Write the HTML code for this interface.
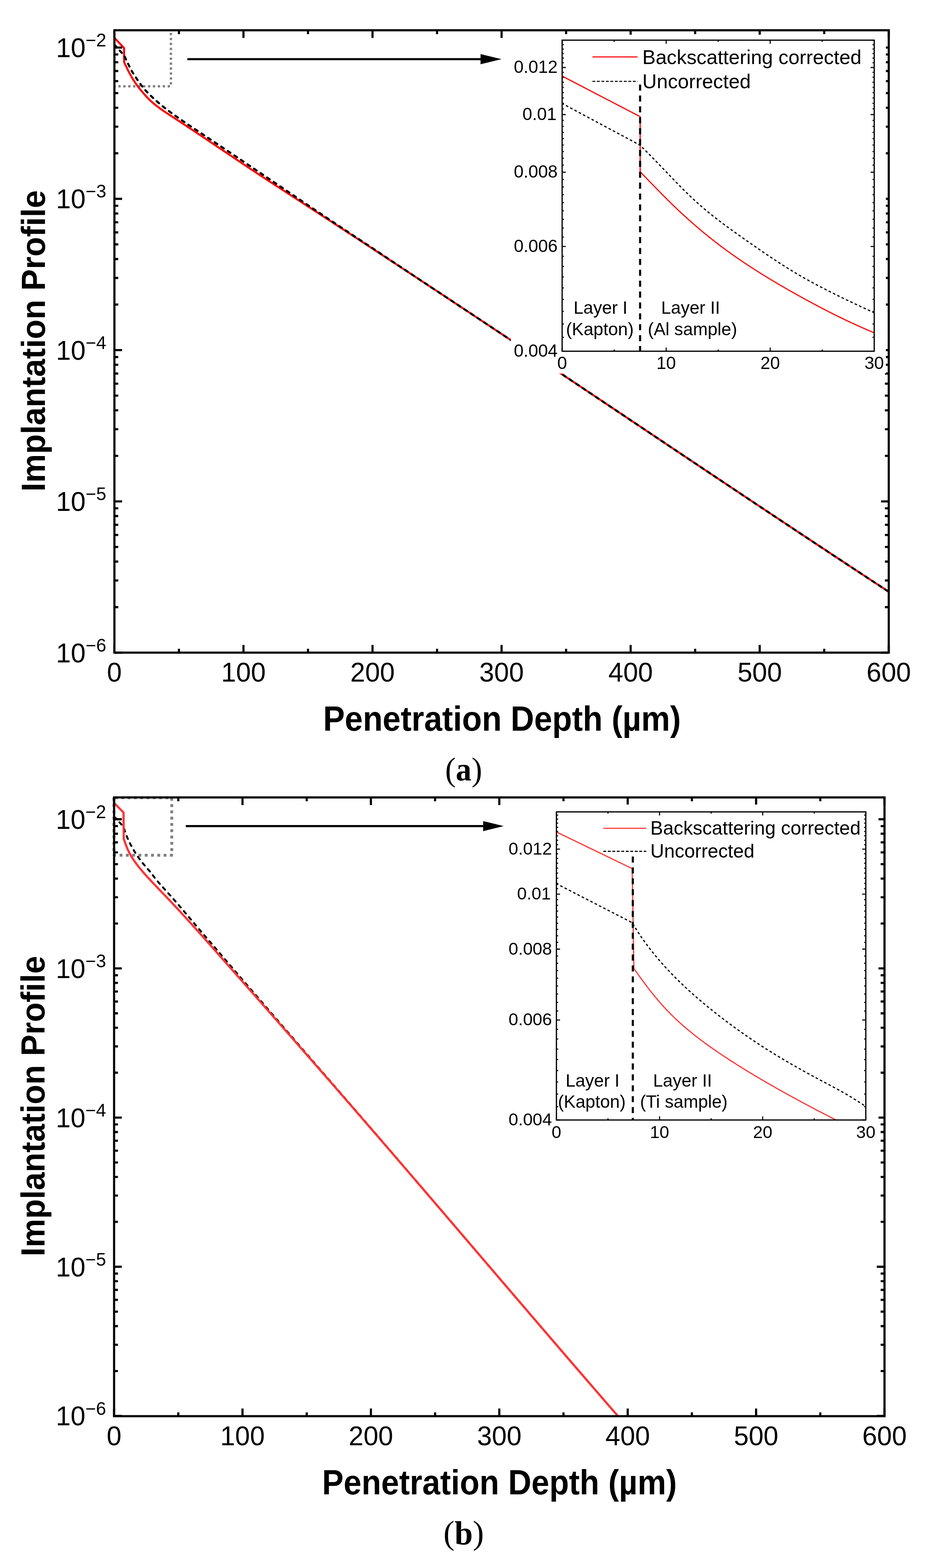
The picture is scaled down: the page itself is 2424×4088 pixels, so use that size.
<!DOCTYPE html>
<html><head><meta charset="utf-8"><title>Implantation Profile</title>
<style>html,body{margin:0;padding:0;background:#fff;width:2424px;height:4088px;overflow:hidden;}svg{display:block;}
text{font-family:"Liberation Sans",Arial,sans-serif;fill:#000;}</style></head>
<body><svg width="2424" height="4088" viewBox="0 0 2424 4088">
<rect width="2424" height="4088" fill="#fff"/>
<clipPath id="pca"><path d="M298.2,78.9H2316.5V1701.5H298.2Z M1331.4,28.900000000000006V973.4H2366.5V28.900000000000006Z" clip-rule="evenodd"/></clipPath>
<path d="M445.5,79V225" fill="none" stroke="#808080" stroke-width="6" stroke-dasharray="6 6.85" stroke-dashoffset="6"/><path d="M445.5,225H298" fill="none" stroke="#808080" stroke-width="6" stroke-dasharray="6 6.85" stroke-dashoffset="10.35"/>
<path d="M298.20,98.48 L323.43,125.38 L323.43,161.90 L328.42,172.50 L333.42,182.79 L338.41,192.42 L343.41,201.33 L348.40,209.53 L353.40,217.08 L358.39,224.05 L363.39,230.57 L368.39,236.73 L373.38,242.61 L378.38,248.24 L383.37,253.65 L388.37,258.78 L393.36,263.59 L398.36,268.08 L403.35,272.28 L408.35,276.26 L413.34,280.03 L418.34,283.66 L423.33,287.16 L428.33,290.57 L433.32,293.91 L438.32,297.21 L443.31,300.48 L448.31,303.74 L453.30,306.99 L458.30,310.24 L463.29,313.51 L468.29,316.78 L473.28,320.07 L478.28,323.37 L483.27,326.67 L488.27,329.98 L493.26,333.31 L498.26,336.63 L503.25,339.96 L508.25,343.30 L513.25,346.64 L518.24,349.98 L523.24,353.32 L528.23,356.67 L533.23,360.01 L538.22,363.36 L543.22,366.71 L548.21,370.06 L553.21,373.41 L558.20,376.76 L563.20,380.11 L568.19,383.47 L573.19,386.82 L578.18,390.18 L583.18,393.53 L588.17,396.89 L593.17,400.24 L598.16,403.60 L603.16,406.96 L608.15,410.31 L613.15,413.66 L618.14,417.02 L623.14,420.37 L628.13,423.72 L633.13,427.07 L638.12,430.41 L643.12,433.75 L648.11,437.09 L653.11,440.42 L658.10,443.74 L663.10,447.06 L668.10,450.37 L673.09,453.68 L678.09,456.98 L683.08,460.27 L688.08,463.55 L693.07,466.83 L698.07,470.10 L703.06,473.37 L708.06,476.64 L713.05,479.90 L718.05,483.16 L723.04,486.42 L728.04,489.67 L733.03,492.92 L738.03,496.17 L743.02,499.42 L748.02,502.67 L753.01,505.92 L758.01,509.17 L763.00,512.41 L768.00,515.66 L772.99,518.91 L777.99,522.15 L782.98,525.40 L787.98,528.64 L792.97,531.89 L797.97,535.14 L802.96,538.39 L807.96,541.64 L812.96,544.88 L817.95,548.13 L822.95,551.39 L827.94,554.64 L832.94,557.89 L837.93,561.15 L842.93,564.40 L847.92,567.66 L852.92,570.91 L857.91,574.17 L862.91,577.43 L867.90,580.69 L872.90,583.96 L877.89,587.22 L882.89,590.48 L887.88,593.75 L892.88,597.02 L897.87,600.29 L902.87,603.55 L907.86,606.82 L912.86,610.10 L917.85,613.37 L922.85,616.64 L927.84,619.92 L932.84,623.20 L937.83,626.47 L942.83,629.75 L947.82,633.03 L952.82,636.31 L957.81,639.59 L962.81,642.88 L967.81,646.16 L972.80,649.44 L977.80,652.73 L982.79,656.01 L987.79,659.30 L992.78,662.59 L997.78,665.88 L1002.77,669.17 L1007.77,672.46 L1012.76,675.75 L1017.76,679.04 L1022.75,682.33 L1027.75,685.63 L1032.74,688.92 L1037.74,692.21 L1042.73,695.51 L1047.73,698.80 L1052.72,702.10 L1057.72,705.39 L1062.71,708.69 L1067.71,711.99 L1072.70,715.28 L1077.70,718.58 L1082.69,721.88 L1087.69,725.18 L1092.68,728.48 L1097.68,731.78 L1102.67,735.07 L1107.67,738.37 L1112.66,741.67 L1117.66,744.97 L1122.66,748.27 L1127.65,751.57 L1132.65,754.87 L1137.64,758.17 L1142.64,761.47 L1147.63,764.78 L1152.63,768.08 L1157.62,771.38 L1162.62,774.68 L1167.61,777.99 L1172.61,781.29 L1177.60,784.60 L1182.60,787.90 L1187.59,791.21 L1192.59,794.52 L1197.58,797.82 L1202.58,801.13 L1207.57,804.44 L1212.57,807.75 L1217.56,811.06 L1222.56,814.37 L1227.55,817.68 L1232.55,820.99 L1237.54,824.31 L1242.54,827.62 L1247.53,830.93 L1252.53,834.25 L1257.52,837.56 L1262.52,840.88 L1267.52,844.20 L1272.51,847.51 L1277.51,850.83 L1282.50,854.15 L1287.50,857.47 L1292.49,860.79 L1297.49,864.11 L1302.48,867.43 L1307.48,870.75 L1312.47,874.08 L1317.47,877.40 L1322.46,880.72 L1327.46,884.05 L1332.45,887.37 L1337.45,890.70 L1342.44,894.03 L1347.44,897.35 L1352.43,900.68 L1357.43,904.01 L1362.42,907.34 L1367.42,910.67 L1372.41,914.00 L1377.41,917.33 L1382.40,920.66 L1387.40,923.99 L1392.39,927.32 L1397.39,930.65 L1402.38,933.99 L1407.38,937.32 L1412.37,940.66 L1417.37,943.99 L1422.37,947.33 L1427.36,950.66 L1432.36,954.00 L1437.35,957.33 L1442.35,960.67 L1447.34,964.01 L1452.34,967.35 L1457.33,970.68 L1462.33,974.02 L1467.32,977.36 L1472.32,980.70 L1477.31,984.04 L1482.31,987.38 L1487.30,990.72 L1492.30,994.06 L1497.29,997.40 L1502.29,1000.74 L1507.28,1004.09 L1512.28,1007.43 L1517.27,1010.77 L1522.27,1014.11 L1527.26,1017.46 L1532.26,1020.80 L1537.25,1024.14 L1542.25,1027.49 L1547.24,1030.83 L1552.24,1034.17 L1557.23,1037.52 L1562.23,1040.86 L1567.23,1044.21 L1572.22,1047.55 L1577.22,1050.90 L1582.21,1054.24 L1587.21,1057.59 L1592.20,1060.93 L1597.20,1064.28 L1602.19,1067.62 L1607.19,1070.97 L1612.18,1074.31 L1617.18,1077.66 L1622.17,1081.01 L1627.17,1084.35 L1632.16,1087.70 L1637.16,1091.04 L1642.15,1094.39 L1647.15,1097.73 L1652.14,1101.08 L1657.14,1104.43 L1662.13,1107.77 L1667.13,1111.12 L1672.12,1114.46 L1677.12,1117.81 L1682.11,1121.15 L1687.11,1124.50 L1692.10,1127.85 L1697.10,1131.19 L1702.09,1134.54 L1707.09,1137.88 L1712.08,1141.23 L1717.08,1144.57 L1722.08,1147.92 L1727.07,1151.26 L1732.07,1154.61 L1737.06,1157.95 L1742.06,1161.29 L1747.05,1164.64 L1752.05,1167.98 L1757.04,1171.33 L1762.04,1174.67 L1767.03,1178.01 L1772.03,1181.36 L1777.02,1184.70 L1782.02,1188.04 L1787.01,1191.38 L1792.01,1194.72 L1797.00,1198.07 L1802.00,1201.41 L1806.99,1204.75 L1811.99,1208.09 L1816.98,1211.43 L1821.98,1214.77 L1826.97,1218.11 L1831.97,1221.45 L1836.96,1224.79 L1841.96,1228.13 L1846.95,1231.47 L1851.95,1234.81 L1856.94,1238.14 L1861.94,1241.48 L1866.94,1244.82 L1871.93,1248.16 L1876.93,1251.49 L1881.92,1254.83 L1886.92,1258.16 L1891.91,1261.50 L1896.91,1264.83 L1901.90,1268.17 L1906.90,1271.50 L1911.89,1274.83 L1916.89,1278.17 L1921.88,1281.50 L1926.88,1284.83 L1931.87,1288.16 L1936.87,1291.50 L1941.86,1294.83 L1946.86,1298.16 L1951.85,1301.49 L1956.85,1304.81 L1961.84,1308.14 L1966.84,1311.47 L1971.83,1314.80 L1976.83,1318.13 L1981.82,1321.45 L1986.82,1324.78 L1991.81,1328.10 L1996.81,1331.43 L2001.80,1334.75 L2006.80,1338.08 L2011.79,1341.40 L2016.79,1344.72 L2021.79,1348.05 L2026.78,1351.37 L2031.78,1354.69 L2036.77,1358.01 L2041.77,1361.33 L2046.76,1364.65 L2051.76,1367.97 L2056.75,1371.28 L2061.75,1374.60 L2066.74,1377.92 L2071.74,1381.23 L2076.73,1384.55 L2081.73,1387.86 L2086.72,1391.18 L2091.72,1394.49 L2096.71,1397.80 L2101.71,1401.12 L2106.70,1404.43 L2111.70,1407.74 L2116.69,1411.05 L2121.69,1414.36 L2126.68,1417.67 L2131.68,1420.98 L2136.67,1424.28 L2141.67,1427.59 L2146.66,1430.90 L2151.66,1434.20 L2156.65,1437.51 L2161.65,1440.81 L2166.65,1444.11 L2171.64,1447.41 L2176.64,1450.72 L2181.63,1454.02 L2186.63,1457.32 L2191.62,1460.62 L2196.62,1463.92 L2201.61,1467.21 L2206.61,1470.51 L2211.60,1473.81 L2216.60,1477.10 L2221.59,1480.40 L2226.59,1483.69 L2231.58,1486.99 L2236.58,1490.28 L2241.57,1493.57 L2246.57,1496.86 L2251.56,1500.15 L2256.56,1503.44 L2261.55,1506.73 L2266.55,1510.02 L2271.54,1513.30 L2276.54,1516.59 L2281.53,1519.88 L2286.53,1523.16 L2291.52,1526.44 L2296.52,1529.73 L2301.51,1533.01 L2306.51,1536.29 L2311.50,1539.57 L2316.50,1542.85" fill="none" stroke="#ff0000" stroke-width="5.2" stroke-linejoin="round" clip-path="url(#pca)"/>
<path d="M298.20,116.62 L323.43,144.31 L328.42,154.71 L333.42,165.34 L338.41,175.75 L343.41,185.20 L348.40,193.51 L353.40,201.13 L358.39,208.38 L363.39,215.47 L368.39,222.31 L373.38,228.70 L378.38,234.57 L383.37,239.98 L388.37,245.08 L393.36,249.98 L398.36,254.72 L403.35,259.32 L408.35,263.78 L413.34,268.12 L418.34,272.34 L423.33,276.45 L428.33,280.46 L433.32,284.38 L438.32,288.20 L443.31,291.95 L448.31,295.61 L453.30,299.22 L458.30,302.77 L463.29,306.28 L468.29,309.75 L473.28,313.19 L478.28,316.61 L483.27,320.01 L488.27,323.39 L493.26,326.75 L498.26,330.11 L503.25,333.45 L508.25,336.79 L513.25,340.12 L518.24,343.45 L523.24,346.78 L528.23,350.11 L533.23,353.43 L538.22,356.75 L543.22,360.08 L548.21,363.40 L553.21,366.73 L558.20,370.06 L563.20,373.39 L568.19,376.72 L573.19,380.06 L578.18,383.40 L583.18,386.74 L588.17,390.08 L593.17,393.43 L598.16,396.77 L603.16,400.13 L608.15,403.48 L613.15,406.83 L618.14,410.19 L623.14,413.55 L628.13,416.92 L633.13,420.28 L638.12,423.65 L643.12,427.01 L648.11,430.39 L653.11,433.76 L658.10,437.13 L663.10,440.50 L668.10,443.88 L673.09,447.26 L678.09,450.64 L683.08,454.01 L688.08,457.39 L693.07,460.78 L698.07,464.16 L703.06,467.54 L708.06,470.92 L713.05,474.30 L718.05,477.68 L723.04,481.06 L728.04,484.45 L733.03,487.83 L738.03,491.21 L743.02,494.59 L748.02,497.97 L753.01,501.35 L758.01,504.73 L763.00,508.10 L768.00,511.48 L772.99,514.85 L777.99,518.23 L782.98,521.60 L787.98,524.97 L792.97,528.34 L797.97,531.71 L802.96,535.08 L807.96,538.45 L812.96,541.81 L817.95,545.17 L822.95,548.53 L827.94,551.89 L832.94,555.25 L837.93,558.60 L842.93,561.96 L847.92,565.31 L852.92,568.66 L857.91,572.00 L862.91,575.35 L867.90,578.69 L872.90,582.03 L877.89,585.36 L882.89,588.70 L887.88,592.03 L892.88,595.36 L897.87,598.68 L902.87,602.01 L907.86,605.33 L912.86,608.65 L917.85,611.96 L922.85,615.28 L927.84,618.59 L932.84,621.89 L937.83,625.20 L942.83,628.50 L947.82,631.80 L952.82,635.09 L957.81,638.38 L962.81,641.67 L967.81,644.96 L972.80,648.27 L977.80,651.62 L982.79,654.97 L987.79,658.32 L992.78,661.66 L997.78,665.01 L1002.77,668.35 L1007.77,671.68 L1012.76,675.02 L1017.76,678.35 L1022.75,681.68 L1027.75,685.01 L1032.74,688.34 L1037.74,691.67 L1042.73,695.00 L1047.73,698.32 L1052.72,701.64 L1057.72,704.97 L1062.71,708.29 L1067.71,711.61 L1072.70,714.93 L1077.70,718.25 L1082.69,721.56 L1087.69,724.88 L1092.68,728.19 L1097.68,731.51 L1102.67,734.82 L1107.67,738.14 L1112.66,741.45 L1117.66,744.76 L1122.66,748.07 L1127.65,751.39 L1132.65,754.70 L1137.64,758.01 L1142.64,761.32 L1147.63,764.63 L1152.63,767.94 L1157.62,771.25 L1162.62,774.56 L1167.61,777.87 L1172.61,781.18 L1177.60,784.50 L1182.60,787.81 L1187.59,791.12 L1192.59,794.43 L1197.58,797.74 L1202.58,801.06 L1207.57,804.37 L1212.57,807.68 L1217.56,811.00 L1222.56,814.31 L1227.55,817.62 L1232.55,820.94 L1237.54,824.26 L1242.54,827.57 L1247.53,830.89 L1252.53,834.21 L1257.52,837.52 L1262.52,840.84 L1267.52,844.16 L1272.51,847.48 L1277.51,850.80 L1282.50,854.12 L1287.50,857.44 L1292.49,860.76 L1297.49,864.09 L1302.48,867.41 L1307.48,870.73 L1312.47,874.06 L1317.47,877.38 L1322.46,880.70 L1327.46,884.03 L1332.45,887.36 L1337.45,890.68 L1342.44,894.01 L1347.44,897.34 L1352.43,900.67 L1357.43,904.00 L1362.42,907.33 L1367.42,910.66 L1372.41,913.99 L1377.41,917.32 L1382.40,920.65 L1387.40,923.98 L1392.39,927.31 L1397.39,930.65 L1402.38,933.98 L1407.38,937.31 L1412.37,940.65 L1417.37,943.98 L1422.37,947.32 L1427.36,950.66 L1432.36,953.99 L1437.35,957.33 L1442.35,960.67 L1447.34,964.00 L1452.34,967.34 L1457.33,970.68 L1462.33,974.02 L1467.32,977.36 L1472.32,980.70 L1477.31,984.04 L1482.31,987.38 L1487.30,990.72 L1492.30,994.06 L1497.29,997.40 L1502.29,1000.74 L1507.28,1004.08 L1512.28,1007.43 L1517.27,1010.77 L1522.27,1014.11 L1527.26,1017.45 L1532.26,1020.80 L1537.25,1024.14 L1542.25,1027.48 L1547.24,1030.83 L1552.24,1034.17 L1557.23,1037.52 L1562.23,1040.86 L1567.23,1044.21 L1572.22,1047.55 L1577.22,1050.90 L1582.21,1054.24 L1587.21,1057.59 L1592.20,1060.93 L1597.20,1064.28 L1602.19,1067.62 L1607.19,1070.97 L1612.18,1074.31 L1617.18,1077.66 L1622.17,1081.00 L1627.17,1084.35 L1632.16,1087.70 L1637.16,1091.04 L1642.15,1094.39 L1647.15,1097.73 L1652.14,1101.08 L1657.14,1104.43 L1662.13,1107.77 L1667.13,1111.12 L1672.12,1114.46 L1677.12,1117.81 L1682.11,1121.15 L1687.11,1124.50 L1692.10,1127.85 L1697.10,1131.19 L1702.09,1134.54 L1707.09,1137.88 L1712.08,1141.23 L1717.08,1144.57 L1722.08,1147.92 L1727.07,1151.26 L1732.07,1154.61 L1737.06,1157.95 L1742.06,1161.29 L1747.05,1164.64 L1752.05,1167.98 L1757.04,1171.33 L1762.04,1174.67 L1767.03,1178.01 L1772.03,1181.36 L1777.02,1184.70 L1782.02,1188.04 L1787.01,1191.38 L1792.01,1194.72 L1797.00,1198.07 L1802.00,1201.41 L1806.99,1204.75 L1811.99,1208.09 L1816.98,1211.43 L1821.98,1214.77 L1826.97,1218.11 L1831.97,1221.45 L1836.96,1224.79 L1841.96,1228.13 L1846.95,1231.47 L1851.95,1234.81 L1856.94,1238.14 L1861.94,1241.48 L1866.94,1244.82 L1871.93,1248.16 L1876.93,1251.49 L1881.92,1254.83 L1886.92,1258.16 L1891.91,1261.50 L1896.91,1264.83 L1901.90,1268.17 L1906.90,1271.50 L1911.89,1274.83 L1916.89,1278.17 L1921.88,1281.50 L1926.88,1284.83 L1931.87,1288.16 L1936.87,1291.50 L1941.86,1294.83 L1946.86,1298.16 L1951.85,1301.49 L1956.85,1304.81 L1961.84,1308.14 L1966.84,1311.47 L1971.83,1314.80 L1976.83,1318.13 L1981.82,1321.45 L1986.82,1324.78 L1991.81,1328.10 L1996.81,1331.43 L2001.80,1334.75 L2006.80,1338.08 L2011.79,1341.40 L2016.79,1344.72 L2021.79,1348.05 L2026.78,1351.37 L2031.78,1354.69 L2036.77,1358.01 L2041.77,1361.33 L2046.76,1364.65 L2051.76,1367.97 L2056.75,1371.28 L2061.75,1374.60 L2066.74,1377.92 L2071.74,1381.23 L2076.73,1384.55 L2081.73,1387.86 L2086.72,1391.18 L2091.72,1394.49 L2096.71,1397.80 L2101.71,1401.12 L2106.70,1404.43 L2111.70,1407.74 L2116.69,1411.05 L2121.69,1414.36 L2126.68,1417.67 L2131.68,1420.98 L2136.67,1424.28 L2141.67,1427.59 L2146.66,1430.90 L2151.66,1434.20 L2156.65,1437.51 L2161.65,1440.81 L2166.65,1444.11 L2171.64,1447.41 L2176.64,1450.72 L2181.63,1454.02 L2186.63,1457.32 L2191.62,1460.62 L2196.62,1463.92 L2201.61,1467.21 L2206.61,1470.51 L2211.60,1473.81 L2216.60,1477.10 L2221.59,1480.40 L2226.59,1483.69 L2231.58,1486.99 L2236.58,1490.28 L2241.57,1493.57 L2246.57,1496.86 L2251.56,1500.15 L2256.56,1503.44 L2261.55,1506.73 L2266.55,1510.02 L2271.54,1513.30 L2276.54,1516.59 L2281.53,1519.88 L2286.53,1523.16 L2291.52,1526.44 L2296.52,1529.73 L2301.51,1533.01 L2306.51,1536.29 L2311.50,1539.57 L2316.50,1542.85" fill="none" stroke="#000" stroke-width="5.4" stroke-dasharray="8.2 12.4" stroke-linecap="round" stroke-linejoin="round" clip-path="url(#pca)"/>
<path d="M298.20,1701.50V1681.50M298.20,78.90V98.90M634.58,1701.50V1681.50M634.58,78.90V98.90M970.97,1701.50V1681.50M970.97,78.90V98.90M1307.35,1701.50V1681.50M1307.35,78.90V98.90M1643.73,1701.50V1681.50M1643.73,78.90V98.90M1980.12,1701.50V1681.50M1980.12,78.90V98.90M2316.50,1701.50V1681.50M2316.50,78.90V98.90M466.39,1701.50V1691.50M466.39,78.90V88.90M802.77,1701.50V1691.50M802.77,78.90V88.90M1139.16,1701.50V1691.50M1139.16,78.90V88.90M1475.54,1701.50V1691.50M1475.54,78.90V88.90M1811.92,1701.50V1691.50M1811.92,78.90V88.90M2148.31,1701.50V1691.50M2148.31,78.90V88.90M298.20,124.00H318.20M2316.50,124.00H2296.50M298.20,518.40H318.20M2316.50,518.40H2296.50M298.20,912.80H318.20M2316.50,912.80H2296.50M298.20,1307.20H318.20M2316.50,1307.20H2296.50M298.20,1701.60H318.20M2316.50,1701.60H2296.50M298.20,399.67H308.20M2316.50,399.67H2306.50M298.20,330.22H308.20M2316.50,330.22H2306.50M298.20,280.95H308.20M2316.50,280.95H2306.50M298.20,242.73H308.20M2316.50,242.73H2306.50M298.20,211.50H308.20M2316.50,211.50H2306.50M298.20,185.09H308.20M2316.50,185.09H2306.50M298.20,162.22H308.20M2316.50,162.22H2306.50M298.20,142.05H308.20M2316.50,142.05H2306.50M298.20,794.07H308.20M2316.50,794.07H2306.50M298.20,724.62H308.20M2316.50,724.62H2306.50M298.20,675.35H308.20M2316.50,675.35H2306.50M298.20,637.13H308.20M2316.50,637.13H2306.50M298.20,605.90H308.20M2316.50,605.90H2306.50M298.20,579.49H308.20M2316.50,579.49H2306.50M298.20,556.62H308.20M2316.50,556.62H2306.50M298.20,536.45H308.20M2316.50,536.45H2306.50M298.20,1188.47H308.20M2316.50,1188.47H2306.50M298.20,1119.02H308.20M2316.50,1119.02H2306.50M298.20,1069.75H308.20M2316.50,1069.75H2306.50M298.20,1031.53H308.20M2316.50,1031.53H2306.50M298.20,1000.30H308.20M2316.50,1000.30H2306.50M298.20,973.89H308.20M2316.50,973.89H2306.50M298.20,951.02H308.20M2316.50,951.02H2306.50M298.20,930.85H308.20M2316.50,930.85H2306.50M298.20,1582.87H308.20M2316.50,1582.87H2306.50M298.20,1513.42H308.20M2316.50,1513.42H2306.50M298.20,1464.15H308.20M2316.50,1464.15H2306.50M298.20,1425.93H308.20M2316.50,1425.93H2306.50M298.20,1394.70H308.20M2316.50,1394.70H2306.50M298.20,1368.29H308.20M2316.50,1368.29H2306.50M298.20,1345.42H308.20M2316.50,1345.42H2306.50M298.20,1325.25H308.20M2316.50,1325.25H2306.50" stroke="#000" stroke-width="5.6" fill="none"/>
<rect x="298.20" y="78.90" width="2018.30" height="1622.60" fill="none" stroke="#000" stroke-width="5.6" stroke-linejoin="miter"/>
<text x="298.20" y="1776.8" font-size="69.5" text-anchor="middle">0</text>
<text x="634.58" y="1776.8" font-size="69.5" text-anchor="middle">100</text>
<text x="970.97" y="1776.8" font-size="69.5" text-anchor="middle">200</text>
<text x="1307.35" y="1776.8" font-size="69.5" text-anchor="middle">300</text>
<text x="1643.73" y="1776.8" font-size="69.5" text-anchor="middle">400</text>
<text x="1980.12" y="1776.8" font-size="69.5" text-anchor="middle">500</text>
<text x="2316.50" y="1776.8" font-size="69.5" text-anchor="middle">600</text>
<text x="277.1" y="148.9" font-size="69.5" text-anchor="end">10<tspan font-size="47.2" dy="-27.9">−2</tspan></text>
<text x="277.1" y="543.3" font-size="69.5" text-anchor="end">10<tspan font-size="47.2" dy="-27.9">−3</tspan></text>
<text x="277.1" y="937.7" font-size="69.5" text-anchor="end">10<tspan font-size="47.2" dy="-27.9">−4</tspan></text>
<text x="277.1" y="1332.1" font-size="69.5" text-anchor="end">10<tspan font-size="47.2" dy="-27.9">−5</tspan></text>
<text x="277.1" y="1726.5" font-size="69.5" text-anchor="end">10<tspan font-size="47.2" dy="-27.9">−6</tspan></text>
<path d="M488.3,154.2H1253.5" stroke="#000" stroke-width="5.6"/>
<path d="M1252.5,140.95L1307.2,154.2L1252.5,167.45Z" fill="#000"/>
<text transform="translate(117.0,888.9) rotate(-90) scale(0.959,1)" font-size="87.8" font-weight="bold" text-anchor="middle">Implantation Profile</text>
<text transform="translate(1308.4,1905.3) scale(0.935,1)" font-size="90.5" font-weight="bold" text-anchor="middle">Penetration Depth (µm)</text>
<text transform="translate(1208.5,2035) scale(0.95,1)" style="font-family:'Liberation Serif',serif" font-size="86" text-anchor="middle"><tspan font-size="87.7" dy="-0.5">(</tspan><tspan font-weight="bold" dy="0.5">a</tspan><tspan font-size="87.7" dy="-0.5">)</tspan></text>
<rect x="1331.4" y="90.6" width="977.5999999999999" height="882.8" fill="#fff"/>
<clipPath id="icai"><rect x="1465.2" y="104.7" width="813.3999999999999" height="811.0"/></clipPath>
<path d="M1465.20,198.45 L1668.55,304.18 L1668.55,447.74 L1670.11,449.47 L1671.68,451.06 L1673.24,452.66 L1674.80,454.27 L1676.36,455.88 L1677.93,457.49 L1679.49,459.10 L1681.05,460.71 L1682.62,462.33 L1684.18,463.94 L1685.74,465.56 L1687.31,467.18 L1688.87,468.80 L1690.43,470.42 L1691.99,472.04 L1693.56,473.66 L1695.12,475.28 L1696.68,476.89 L1698.25,478.51 L1699.81,480.13 L1701.37,481.74 L1702.93,483.36 L1704.50,484.97 L1706.06,486.58 L1707.62,488.19 L1709.19,489.79 L1710.75,491.40 L1712.31,493.00 L1713.87,494.60 L1715.44,496.20 L1717.00,497.79 L1718.56,499.39 L1720.13,500.98 L1721.69,502.56 L1723.25,504.15 L1724.82,505.73 L1726.38,507.30 L1727.94,508.88 L1729.50,510.45 L1731.07,512.02 L1732.63,513.58 L1734.19,515.14 L1735.76,516.70 L1737.32,518.26 L1738.88,519.81 L1740.44,521.35 L1742.01,522.90 L1743.57,524.44 L1745.13,525.97 L1746.70,527.50 L1748.26,529.03 L1749.82,530.55 L1751.38,532.07 L1752.95,533.59 L1754.51,535.10 L1756.07,536.61 L1757.64,538.11 L1759.20,539.61 L1760.76,541.11 L1762.33,542.60 L1763.89,544.09 L1765.45,545.57 L1767.01,547.05 L1768.58,548.52 L1770.14,549.99 L1771.70,551.46 L1773.27,552.92 L1774.83,554.38 L1776.39,555.83 L1777.95,557.28 L1779.52,558.72 L1781.08,560.16 L1782.64,561.60 L1784.21,563.03 L1785.77,564.46 L1787.33,565.88 L1788.90,567.30 L1790.46,568.71 L1792.02,570.12 L1793.58,571.53 L1795.15,572.93 L1796.71,574.33 L1798.27,575.72 L1799.84,577.11 L1801.40,578.49 L1802.96,579.87 L1804.52,581.24 L1806.09,582.61 L1807.65,583.98 L1809.21,585.34 L1810.78,586.70 L1812.34,588.05 L1813.90,589.40 L1815.46,590.75 L1817.03,592.09 L1818.59,593.42 L1820.15,594.76 L1821.72,596.08 L1823.28,597.41 L1824.84,598.73 L1826.41,600.04 L1827.97,601.35 L1829.53,602.66 L1831.09,603.96 L1832.66,605.26 L1834.22,606.55 L1835.78,607.84 L1837.35,609.13 L1838.91,610.41 L1840.47,611.69 L1842.03,612.96 L1843.60,614.23 L1845.16,615.50 L1846.72,616.76 L1848.29,618.01 L1849.85,619.27 L1851.41,620.52 L1852.98,621.76 L1854.54,623.00 L1856.10,624.24 L1857.66,625.47 L1859.23,626.70 L1860.79,627.92 L1862.35,629.14 L1863.92,630.36 L1865.48,631.57 L1867.04,632.78 L1868.60,633.99 L1870.17,635.19 L1871.73,636.39 L1873.29,637.58 L1874.86,638.77 L1876.42,639.95 L1877.98,641.14 L1879.54,642.31 L1881.11,643.49 L1882.67,644.66 L1884.23,645.83 L1885.80,646.99 L1887.36,648.15 L1888.92,649.30 L1890.49,650.45 L1892.05,651.60 L1893.61,652.75 L1895.17,653.89 L1896.74,655.02 L1898.30,656.16 L1899.86,657.29 L1901.43,658.41 L1902.99,659.54 L1904.55,660.65 L1906.11,661.77 L1907.68,662.88 L1909.24,663.99 L1910.80,665.09 L1912.37,666.20 L1913.93,667.29 L1915.49,668.39 L1917.05,669.48 L1918.62,670.57 L1920.18,671.65 L1921.74,672.73 L1923.31,673.81 L1924.87,674.89 L1926.43,675.96 L1928.00,677.03 L1929.56,678.09 L1931.12,679.16 L1932.68,680.22 L1934.25,681.27 L1935.81,682.33 L1937.37,683.38 L1938.94,684.43 L1940.50,685.47 L1942.06,686.51 L1943.62,687.55 L1945.19,688.59 L1946.75,689.62 L1948.31,690.66 L1949.88,691.68 L1951.44,692.71 L1953.00,693.73 L1954.57,694.75 L1956.13,695.77 L1957.69,696.79 L1959.25,697.80 L1960.82,698.81 L1962.38,699.82 L1963.94,700.83 L1965.51,701.83 L1967.07,702.83 L1968.63,703.83 L1970.19,704.82 L1971.76,705.82 L1973.32,706.81 L1974.88,707.80 L1976.45,708.78 L1978.01,709.77 L1979.57,710.75 L1981.13,711.73 L1982.70,712.71 L1984.26,713.68 L1985.82,714.66 L1987.39,715.63 L1988.95,716.60 L1990.51,717.56 L1992.08,718.53 L1993.64,719.49 L1995.20,720.45 L1996.76,721.41 L1998.33,722.37 L1999.89,723.32 L2001.45,724.27 L2003.02,725.22 L2004.58,726.17 L2006.14,727.12 L2007.70,728.06 L2009.27,729.01 L2010.83,729.95 L2012.39,730.89 L2013.96,731.82 L2015.52,732.76 L2017.08,733.69 L2018.64,734.62 L2020.21,735.55 L2021.77,736.48 L2023.33,737.41 L2024.90,738.33 L2026.46,739.26 L2028.02,740.18 L2029.59,741.10 L2031.15,742.01 L2032.71,742.93 L2034.27,743.84 L2035.84,744.76 L2037.40,745.67 L2038.96,746.58 L2040.53,747.48 L2042.09,748.39 L2043.65,749.29 L2045.21,750.20 L2046.78,751.10 L2048.34,752.00 L2049.90,752.89 L2051.47,753.79 L2053.03,754.69 L2054.59,755.58 L2056.16,756.47 L2057.72,757.36 L2059.28,758.25 L2060.84,759.14 L2062.41,760.02 L2063.97,760.91 L2065.53,761.79 L2067.10,762.67 L2068.66,763.55 L2070.22,764.43 L2071.78,765.31 L2073.35,766.19 L2074.91,767.06 L2076.47,767.93 L2078.04,768.81 L2079.60,769.68 L2081.16,770.54 L2082.72,771.41 L2084.29,772.28 L2085.85,773.14 L2087.41,774.01 L2088.98,774.87 L2090.54,775.73 L2092.10,776.59 L2093.67,777.45 L2095.23,778.31 L2096.79,779.16 L2098.35,780.02 L2099.92,780.87 L2101.48,781.72 L2103.04,782.57 L2104.61,783.42 L2106.17,784.27 L2107.73,785.12 L2109.29,785.97 L2110.86,786.81 L2112.42,787.66 L2113.98,788.50 L2115.55,789.34 L2117.11,790.18 L2118.67,791.02 L2120.24,791.85 L2121.80,792.69 L2123.36,793.52 L2124.92,794.36 L2126.49,795.19 L2128.05,796.02 L2129.61,796.85 L2131.18,797.67 L2132.74,798.50 L2134.30,799.32 L2135.86,800.15 L2137.43,800.97 L2138.99,801.79 L2140.55,802.60 L2142.12,803.42 L2143.68,804.23 L2145.24,805.05 L2146.80,805.86 L2148.37,806.67 L2149.93,807.48 L2151.49,808.28 L2153.06,809.09 L2154.62,809.89 L2156.18,810.69 L2157.75,811.49 L2159.31,812.29 L2160.87,813.09 L2162.43,813.88 L2164.00,814.67 L2165.56,815.46 L2167.12,816.25 L2168.69,817.04 L2170.25,817.83 L2171.81,818.61 L2173.37,819.39 L2174.94,820.17 L2176.50,820.95 L2178.06,821.73 L2179.63,822.50 L2181.19,823.28 L2182.75,824.05 L2184.31,824.82 L2185.88,825.59 L2187.44,826.35 L2189.00,827.11 L2190.57,827.88 L2192.13,828.64 L2193.69,829.39 L2195.26,830.15 L2196.82,830.91 L2198.38,831.66 L2199.94,832.41 L2201.51,833.16 L2203.07,833.90 L2204.63,834.65 L2206.20,835.39 L2207.76,836.13 L2209.32,836.87 L2210.88,837.61 L2212.45,838.34 L2214.01,839.07 L2215.57,839.81 L2217.14,840.53 L2218.70,841.26 L2220.26,841.99 L2221.83,842.71 L2223.39,843.43 L2224.95,844.15 L2226.51,844.87 L2228.08,845.58 L2229.64,846.29 L2231.20,847.00 L2232.77,847.71 L2234.33,848.42 L2235.89,849.13 L2237.45,849.83 L2239.02,850.53 L2240.58,851.23 L2242.14,851.92 L2243.71,852.62 L2245.27,853.31 L2246.83,854.00 L2248.39,854.69 L2249.96,855.38 L2251.52,856.07 L2253.08,856.75 L2254.65,857.43 L2256.21,858.11 L2257.77,858.79 L2259.34,859.47 L2260.90,860.14 L2262.46,860.82 L2264.02,861.49 L2265.59,862.16 L2267.15,862.83 L2268.71,863.49 L2270.28,864.16 L2271.84,864.82 L2273.40,865.48 L2274.96,866.14 L2276.53,866.80 L2278.09,867.46 L2279.65,868.11 L2281.22,868.77 L2282.78,869.42 L2284.34,870.07 L2285.90,870.72 L2287.47,871.36 L2289.03,872.01 L2290.59,872.65 L2292.16,873.30" fill="none" stroke="#ff0000" stroke-width="3" stroke-linejoin="round" clip-path="url(#icai)"/>
<path d="M1465.20,269.76 L1668.55,378.60 L1670.11,380.38 L1671.68,381.92 L1673.24,383.46 L1674.80,385.01 L1676.36,386.56 L1677.93,388.11 L1679.49,389.67 L1681.05,391.23 L1682.62,392.80 L1684.18,394.37 L1685.74,395.94 L1687.31,397.52 L1688.87,399.09 L1690.43,400.68 L1691.99,402.26 L1693.56,403.85 L1695.12,405.44 L1696.68,407.03 L1698.25,408.62 L1699.81,410.22 L1701.37,411.82 L1702.93,413.42 L1704.50,415.02 L1706.06,416.62 L1707.62,418.23 L1709.19,419.84 L1710.75,421.45 L1712.31,423.06 L1713.87,424.67 L1715.44,426.28 L1717.00,427.90 L1718.56,429.51 L1720.13,431.13 L1721.69,432.75 L1723.25,434.37 L1724.82,435.99 L1726.38,437.61 L1727.94,439.24 L1729.50,440.86 L1731.07,442.49 L1732.63,444.11 L1734.19,445.74 L1735.76,447.36 L1737.32,448.99 L1738.88,450.62 L1740.44,452.25 L1742.01,453.87 L1743.57,455.50 L1745.13,457.13 L1746.70,458.76 L1748.26,460.39 L1749.82,462.02 L1751.38,463.65 L1752.95,465.27 L1754.51,466.90 L1756.07,468.52 L1757.64,470.14 L1759.20,471.76 L1760.76,473.37 L1762.33,474.99 L1763.89,476.60 L1765.45,478.20 L1767.01,479.80 L1768.58,481.40 L1770.14,483.00 L1771.70,484.59 L1773.27,486.17 L1774.83,487.75 L1776.39,489.33 L1777.95,490.90 L1779.52,492.47 L1781.08,494.03 L1782.64,495.59 L1784.21,497.14 L1785.77,498.68 L1787.33,500.22 L1788.90,501.76 L1790.46,503.28 L1792.02,504.81 L1793.58,506.32 L1795.15,507.83 L1796.71,509.33 L1798.27,510.83 L1799.84,512.32 L1801.40,513.80 L1802.96,515.28 L1804.52,516.75 L1806.09,518.21 L1807.65,519.66 L1809.21,521.11 L1810.78,522.55 L1812.34,523.99 L1813.90,525.41 L1815.46,526.83 L1817.03,528.24 L1818.59,529.65 L1820.15,531.04 L1821.72,532.43 L1823.28,533.82 L1824.84,535.19 L1826.41,536.56 L1827.97,537.91 L1829.53,539.27 L1831.09,540.61 L1832.66,541.95 L1834.22,543.28 L1835.78,544.60 L1837.35,545.91 L1838.91,547.22 L1840.47,548.53 L1842.03,549.82 L1843.60,551.11 L1845.16,552.40 L1846.72,553.67 L1848.29,554.95 L1849.85,556.21 L1851.41,557.48 L1852.98,558.73 L1854.54,559.98 L1856.10,561.23 L1857.66,562.47 L1859.23,563.71 L1860.79,564.94 L1862.35,566.16 L1863.92,567.39 L1865.48,568.60 L1867.04,569.82 L1868.60,571.03 L1870.17,572.23 L1871.73,573.43 L1873.29,574.63 L1874.86,575.82 L1876.42,577.01 L1877.98,578.20 L1879.54,579.38 L1881.11,580.56 L1882.67,581.74 L1884.23,582.91 L1885.80,584.08 L1887.36,585.25 L1888.92,586.41 L1890.49,587.57 L1892.05,588.73 L1893.61,589.88 L1895.17,591.03 L1896.74,592.18 L1898.30,593.33 L1899.86,594.47 L1901.43,595.61 L1902.99,596.75 L1904.55,597.89 L1906.11,599.03 L1907.68,600.16 L1909.24,601.29 L1910.80,602.42 L1912.37,603.54 L1913.93,604.67 L1915.49,605.79 L1917.05,606.91 L1918.62,608.03 L1920.18,609.15 L1921.74,610.26 L1923.31,611.37 L1924.87,612.49 L1926.43,613.60 L1928.00,614.71 L1929.56,615.81 L1931.12,616.92 L1932.68,618.02 L1934.25,619.13 L1935.81,620.23 L1937.37,621.33 L1938.94,622.43 L1940.50,623.53 L1942.06,624.63 L1943.62,625.72 L1945.19,626.82 L1946.75,627.91 L1948.31,629.00 L1949.88,630.10 L1951.44,631.19 L1953.00,632.28 L1954.57,633.37 L1956.13,634.46 L1957.69,635.54 L1959.25,636.63 L1960.82,637.72 L1962.38,638.80 L1963.94,639.89 L1965.51,640.97 L1967.07,642.06 L1968.63,643.14 L1970.19,644.22 L1971.76,645.30 L1973.32,646.39 L1974.88,647.47 L1976.45,648.55 L1978.01,649.62 L1979.57,650.70 L1981.13,651.78 L1982.70,652.85 L1984.26,653.93 L1985.82,655.00 L1987.39,656.07 L1988.95,657.14 L1990.51,658.21 L1992.08,659.28 L1993.64,660.34 L1995.20,661.41 L1996.76,662.47 L1998.33,663.53 L1999.89,664.59 L2001.45,665.65 L2003.02,666.70 L2004.58,667.76 L2006.14,668.81 L2007.70,669.86 L2009.27,670.90 L2010.83,671.95 L2012.39,672.99 L2013.96,674.03 L2015.52,675.07 L2017.08,676.11 L2018.64,677.14 L2020.21,678.17 L2021.77,679.20 L2023.33,680.23 L2024.90,681.25 L2026.46,682.28 L2028.02,683.30 L2029.59,684.31 L2031.15,685.33 L2032.71,686.34 L2034.27,687.35 L2035.84,688.35 L2037.40,689.36 L2038.96,690.36 L2040.53,691.36 L2042.09,692.35 L2043.65,693.34 L2045.21,694.33 L2046.78,695.32 L2048.34,696.30 L2049.90,697.28 L2051.47,698.26 L2053.03,699.24 L2054.59,700.21 L2056.16,701.18 L2057.72,702.14 L2059.28,703.10 L2060.84,704.06 L2062.41,705.02 L2063.97,705.97 L2065.53,706.92 L2067.10,707.87 L2068.66,708.81 L2070.22,709.75 L2071.78,710.69 L2073.35,711.62 L2074.91,712.55 L2076.47,713.48 L2078.04,714.40 L2079.60,715.32 L2081.16,716.24 L2082.72,717.15 L2084.29,718.06 L2085.85,718.97 L2087.41,719.88 L2088.98,720.78 L2090.54,721.67 L2092.10,722.57 L2093.67,723.46 L2095.23,724.34 L2096.79,725.23 L2098.35,726.11 L2099.92,726.99 L2101.48,727.86 L2103.04,728.74 L2104.61,729.61 L2106.17,730.47 L2107.73,731.34 L2109.29,732.20 L2110.86,733.06 L2112.42,733.91 L2113.98,734.76 L2115.55,735.61 L2117.11,736.46 L2118.67,737.31 L2120.24,738.15 L2121.80,738.99 L2123.36,739.83 L2124.92,740.67 L2126.49,741.50 L2128.05,742.33 L2129.61,743.16 L2131.18,743.99 L2132.74,744.81 L2134.30,745.63 L2135.86,746.45 L2137.43,747.27 L2138.99,748.09 L2140.55,748.90 L2142.12,749.71 L2143.68,750.52 L2145.24,751.33 L2146.80,752.14 L2148.37,752.94 L2149.93,753.74 L2151.49,754.54 L2153.06,755.34 L2154.62,756.14 L2156.18,756.93 L2157.75,757.73 L2159.31,758.52 L2160.87,759.31 L2162.43,760.10 L2164.00,760.88 L2165.56,761.67 L2167.12,762.45 L2168.69,763.23 L2170.25,764.01 L2171.81,764.79 L2173.37,765.57 L2174.94,766.34 L2176.50,767.12 L2178.06,767.89 L2179.63,768.66 L2181.19,769.43 L2182.75,770.20 L2184.31,770.97 L2185.88,771.74 L2187.44,772.50 L2189.00,773.27 L2190.57,774.03 L2192.13,774.79 L2193.69,775.55 L2195.26,776.31 L2196.82,777.07 L2198.38,777.82 L2199.94,778.58 L2201.51,779.33 L2203.07,780.09 L2204.63,780.84 L2206.20,781.59 L2207.76,782.34 L2209.32,783.09 L2210.88,783.84 L2212.45,784.59 L2214.01,785.33 L2215.57,786.08 L2217.14,786.82 L2218.70,787.57 L2220.26,788.31 L2221.83,789.05 L2223.39,789.79 L2224.95,790.53 L2226.51,791.27 L2228.08,792.01 L2229.64,792.75 L2231.20,793.48 L2232.77,794.22 L2234.33,794.95 L2235.89,795.68 L2237.45,796.42 L2239.02,797.15 L2240.58,797.88 L2242.14,798.61 L2243.71,799.34 L2245.27,800.06 L2246.83,800.79 L2248.39,801.52 L2249.96,802.24 L2251.52,802.97 L2253.08,803.69 L2254.65,804.41 L2256.21,805.13 L2257.77,805.85 L2259.34,806.57 L2260.90,807.29 L2262.46,808.01 L2264.02,808.73 L2265.59,809.44 L2267.15,810.16 L2268.71,810.87 L2270.28,811.59 L2271.84,812.30 L2273.40,813.01 L2274.96,813.72 L2276.53,814.43 L2278.09,815.14 L2279.65,815.85 L2281.22,816.56 L2282.78,817.27 L2284.34,817.97 L2285.90,818.68 L2287.47,819.38 L2289.03,820.09 L2290.59,820.79 L2292.16,821.49" fill="none" stroke="#000" stroke-width="3.2" stroke-dasharray="4 8.6" stroke-linecap="round" clip-path="url(#icai)"/>
<path d="M1668.4,220.5V915.7" stroke="#000" stroke-width="5.5" stroke-dasharray="15.8 12.6" clip-path="url(#icai)"/>
<path d="M1465.20,915.70V906.30M1465.20,104.70V114.10M1736.33,915.70V906.30M1736.33,104.70V114.10M2007.47,915.70V906.30M2007.47,104.70V114.10M2278.60,915.70V906.30M2278.60,104.70V114.10M1600.77,915.70V911.20M1600.77,104.70V109.20M1871.90,915.70V911.20M1871.90,104.70V109.20M2143.03,915.70V911.20M2143.03,104.70V109.20M1465.20,915.68H1474.60M2278.60,915.68H2269.20M1465.20,642.69H1474.60M2278.60,642.69H2269.20M1465.20,448.99H1474.60M2278.60,448.99H2269.20M1465.20,298.75H1474.60M2278.60,298.75H2269.20M1465.20,176.00H1474.60M2278.60,176.00H2269.20M1465.20,879.28H1469.70M2278.60,879.28H2274.10M1465.20,844.74H1469.70M2278.60,844.74H2274.10M1465.20,811.89H1469.70M2278.60,811.89H2274.10M1465.20,780.57H1469.70M2278.60,780.57H2274.10M1465.20,750.64H1469.70M2278.60,750.64H2274.10M1465.20,721.99H1469.70M2278.60,721.99H2274.10M1465.20,694.50H1469.70M2278.60,694.50H2274.10M1465.20,668.10H1469.70M2278.60,668.10H2274.10M1465.20,618.20H1469.70M2278.60,618.20H2274.10M1465.20,594.57H1469.70M2278.60,594.57H2274.10M1465.20,571.75H1469.70M2278.60,571.75H2274.10M1465.20,549.67H1469.70M2278.60,549.67H2274.10M1465.20,528.30H1469.70M2278.60,528.30H2274.10M1465.20,507.58H1469.70M2278.60,507.58H2274.10M1465.20,487.48H1469.70M2278.60,487.48H2274.10M1465.20,467.96H1469.70M2278.60,467.96H2274.10M1465.20,430.55H1469.70M2278.60,430.55H2274.10M1465.20,412.59H1469.70M2278.60,412.59H2274.10M1465.20,395.10H1469.70M2278.60,395.10H2274.10M1465.20,378.06H1469.70M2278.60,378.06H2274.10M1465.20,361.43H1469.70M2278.60,361.43H2274.10M1465.20,345.21H1469.70M2278.60,345.21H2274.10M1465.20,329.36H1469.70M2278.60,329.36H2274.10M1465.20,313.89H1469.70M2278.60,313.89H2274.10M1465.20,283.96H1469.70M2278.60,283.96H2274.10M1465.20,269.48H1469.70M2278.60,269.48H2274.10M1465.20,255.30H1469.70M2278.60,255.30H2274.10M1465.20,241.42H1469.70M2278.60,241.42H2274.10M1465.20,227.82H1469.70M2278.60,227.82H2274.10M1465.20,214.48H1469.70M2278.60,214.48H2274.10M1465.20,201.41H1469.70M2278.60,201.41H2274.10M1465.20,188.59H1469.70M2278.60,188.59H2274.10M1465.20,163.65H1469.70M2278.60,163.65H2274.10M1465.20,151.51H1469.70M2278.60,151.51H2274.10M1465.20,139.60H1469.70M2278.60,139.60H2274.10M1465.20,127.89H1469.70M2278.60,127.89H2274.10M1465.20,116.38H1469.70M2278.60,116.38H2274.10M1465.20,105.06H1469.70M2278.60,105.06H2274.10" stroke="#000" stroke-width="2.8" fill="none"/>
<rect x="1465.20" y="104.70" width="813.40" height="811.00" fill="none" stroke="#000" stroke-width="3.2" stroke-linejoin="miter"/>
<text x="1465.20" y="962.3" font-size="45.7" text-anchor="middle">0</text>
<text x="1736.33" y="962.3" font-size="45.7" text-anchor="middle">10</text>
<text x="2007.47" y="962.3" font-size="45.7" text-anchor="middle">20</text>
<text x="2278.60" y="962.3" font-size="45.7" text-anchor="middle">30</text>
<text x="1453.5" y="929.7" font-size="45.7" text-anchor="end">0.004</text>
<text x="1453.5" y="656.7" font-size="45.7" text-anchor="end">0.006</text>
<text x="1453.5" y="463.0" font-size="45.7" text-anchor="end">0.008</text>
<text x="1450.7" y="312.8" font-size="45.7" text-anchor="end">0.01</text>
<text x="1453.5" y="190.0" font-size="45.7" text-anchor="end">0.012</text>
<path d="M1544.1,148.4H1661.8" stroke="#ff0000" stroke-width="2.6"/>
<path d="M1544.1,212.1H1661.8" stroke="#000" stroke-width="2.8" stroke-dasharray="7.5 4.2"/>
<text x="1674.3" y="166.6" font-size="51.9">Backscattering corrected</text>
<text x="1674.3" y="230.3" font-size="51.9">Uncorrected</text>
<text x="1565.3" y="817.8" font-size="46" text-anchor="middle">Layer I</text>
<text x="1563.5" y="873.8" font-size="46" text-anchor="middle">(Kapton)</text>
<text x="1800.0" y="817.8" font-size="46" text-anchor="middle">Layer II</text>
<text x="1804.9" y="873.6" font-size="46" text-anchor="middle">(Al sample)</text>
<clipPath id="pcb"><path d="M297.4,2079.0H2305.4V3692.2H297.4Z M1316,2029.0V2975H2355.4V2029.0Z" clip-rule="evenodd"/></clipPath>
<path d="M447.7,2079V2229.7" fill="none" stroke="#808080" stroke-width="7.4" stroke-dasharray="7.4 9" stroke-dashoffset="15.3"/><path d="M450.3,2229.7H296.5" fill="none" stroke="#808080" stroke-width="7.4" stroke-dasharray="7.4 9"/><path d="M297,2080H447.7" fill="none" stroke="#808080" stroke-width="7.4" stroke-dasharray="7.4 9" stroke-dashoffset="13.5"/><path d="M297,2079V2229.7" fill="none" stroke="#808080" stroke-width="7.4" stroke-dasharray="7.4 9" stroke-dashoffset="15.3"/>
<path d="M297.40,2128.75 L321.98,2155.46 L325.21,2166.10 L328.43,2175.26 L331.66,2183.39 L334.89,2190.73 L338.12,2197.49 L341.35,2203.78 L344.58,2209.70 L347.81,2215.31 L351.04,2220.65 L354.27,2225.78 L357.49,2230.70 L360.72,2235.41 L363.95,2239.92 L367.18,2244.24 L370.41,2248.39 L373.64,2252.37 L376.87,2256.24 L380.10,2260.00 L383.33,2263.66 L386.55,2267.28 L389.78,2270.98 L393.01,2274.95 L396.24,2279.23 L399.47,2283.59 L402.70,2287.80 L405.93,2291.84 L409.16,2295.76 L412.39,2299.56 L415.61,2303.29 L418.84,2306.96 L422.07,2310.58 L425.30,2314.16 L428.53,2317.73 L431.76,2321.29 L434.99,2324.84 L438.22,2328.41 L441.45,2331.99 L444.67,2335.59 L447.90,2339.21 L451.13,2342.86 L454.36,2346.54 L457.59,2350.24 L460.82,2353.97 L464.05,2357.72 L467.28,2361.49 L470.51,2365.27 L473.73,2369.06 L476.96,2372.86 L480.19,2376.67 L483.42,2380.49 L486.65,2384.31 L489.88,2388.13 L493.11,2391.95 L496.34,2395.78 L499.57,2399.60 L502.79,2403.42 L506.02,2407.23 L509.25,2411.05 L512.48,2414.85 L515.71,2418.65 L518.94,2422.45 L522.17,2426.24 L525.40,2430.01 L528.62,2433.79 L531.85,2437.55 L535.08,2441.30 L538.31,2445.04 L541.54,2448.78 L544.77,2452.50 L548.00,2456.21 L551.23,2459.91 L554.46,2463.68 L557.68,2467.48 L560.91,2471.27 L564.14,2475.06 L567.37,2478.85 L570.60,2482.64 L573.83,2486.43 L577.06,2490.22 L580.29,2494.00 L583.52,2497.79 L586.74,2501.57 L589.97,2505.35 L593.20,2509.13 L596.43,2512.91 L599.66,2516.68 L602.89,2520.46 L606.12,2524.23 L609.35,2528.00 L612.58,2531.77 L615.80,2535.53 L619.03,2539.29 L622.26,2543.05 L625.49,2546.81 L628.72,2550.56 L631.95,2554.32 L635.18,2558.07 L638.41,2561.82 L641.64,2565.56 L644.86,2569.31 L648.09,2573.05 L651.32,2576.80 L654.55,2580.54 L657.78,2584.28 L661.01,2588.02 L664.24,2591.76 L667.47,2595.49 L670.70,2599.23 L673.92,2602.97 L677.15,2606.70 L680.38,2610.44 L683.61,2614.17 L686.84,2617.91 L690.07,2621.64 L693.30,2625.38 L696.53,2629.11 L699.76,2632.84 L702.98,2636.58 L706.21,2640.31 L709.44,2644.04 L712.67,2647.77 L715.90,2651.51 L719.13,2655.24 L722.36,2658.97 L725.59,2662.70 L728.82,2666.43 L732.04,2670.16 L735.27,2673.90 L738.50,2677.63 L741.73,2681.36 L744.96,2685.09 L748.19,2688.82 L751.42,2692.55 L754.65,2696.28 L757.87,2700.01 L761.10,2703.75 L764.33,2707.48 L767.56,2711.21 L770.79,2714.94 L774.02,2718.67 L777.25,2722.40 L780.48,2726.13 L783.71,2729.86 L786.93,2733.59 L790.16,2737.32 L793.39,2741.05 L796.62,2744.78 L799.85,2748.51 L803.08,2752.24 L806.31,2755.97 L809.54,2759.70 L812.77,2763.42 L815.99,2767.15 L819.22,2770.88 L822.45,2774.61 L825.68,2778.33 L828.91,2782.06 L832.14,2785.79 L835.37,2789.52 L838.60,2793.24 L841.83,2796.97 L845.05,2800.70 L848.28,2804.42 L851.51,2808.15 L854.74,2811.88 L857.97,2815.61 L861.20,2819.33 L864.43,2823.06 L867.66,2826.79 L870.89,2830.52 L874.11,2834.25 L877.34,2837.98 L880.57,2841.71 L883.80,2845.44 L887.03,2849.17 L890.26,2852.90 L893.49,2856.63 L896.72,2860.37 L899.95,2864.10 L903.17,2867.83 L906.40,2871.57 L909.63,2875.30 L912.86,2879.04 L916.09,2882.77 L919.32,2886.51 L922.55,2890.25 L925.78,2893.99 L929.01,2897.72 L932.23,2901.46 L935.46,2905.20 L938.69,2908.95 L941.92,2912.69 L945.15,2916.43 L948.38,2920.17 L951.61,2923.92 L954.84,2927.66 L958.07,2931.41 L961.29,2935.15 L964.52,2938.90 L967.75,2942.65 L970.98,2946.39 L974.21,2950.14 L977.44,2953.89 L980.67,2957.64 L983.90,2961.39 L987.12,2965.14 L990.35,2968.90 L993.58,2972.65 L996.81,2976.40 L1000.04,2980.16 L1003.27,2983.91 L1006.50,2987.67 L1009.73,2991.42 L1012.96,2995.18 L1016.18,2998.94 L1019.41,3002.70 L1022.64,3006.46 L1025.87,3010.21 L1029.10,3013.97 L1032.33,3017.74 L1035.56,3021.50 L1038.79,3025.26 L1042.02,3029.02 L1045.24,3032.78 L1048.47,3036.55 L1051.70,3040.31 L1054.93,3044.08 L1058.16,3047.84 L1061.39,3051.61 L1064.62,3055.37 L1067.85,3059.14 L1071.08,3062.91 L1074.30,3066.68 L1077.53,3070.44 L1080.76,3074.21 L1083.99,3077.98 L1087.22,3081.75 L1090.45,3085.52 L1093.68,3089.29 L1096.91,3093.06 L1100.14,3096.84 L1103.36,3100.61 L1106.59,3104.38 L1109.82,3108.15 L1113.05,3111.93 L1116.28,3115.70 L1119.51,3119.47 L1122.74,3123.25 L1125.97,3127.02 L1129.20,3130.80 L1132.42,3134.57 L1135.65,3138.35 L1138.88,3142.12 L1142.11,3145.90 L1145.34,3149.68 L1148.57,3153.45 L1151.80,3157.23 L1155.03,3161.01 L1158.26,3164.78 L1161.48,3168.56 L1164.71,3172.34 L1167.94,3176.12 L1171.17,3179.90 L1174.40,3183.67 L1177.63,3187.45 L1180.86,3191.23 L1184.09,3195.01 L1187.31,3198.79 L1190.54,3202.57 L1193.77,3206.35 L1197.00,3210.13 L1200.23,3213.91 L1203.46,3217.68 L1206.69,3221.46 L1209.92,3225.24 L1213.15,3229.02 L1216.37,3232.80 L1219.60,3236.58 L1222.83,3240.36 L1226.06,3244.14 L1229.29,3247.92 L1232.52,3251.70 L1235.75,3255.48 L1238.98,3259.26 L1242.21,3263.04 L1245.43,3266.82 L1248.66,3270.60 L1251.89,3274.38 L1255.12,3278.16 L1258.35,3281.94 L1261.58,3285.72 L1264.81,3289.50 L1268.04,3293.28 L1271.27,3297.05 L1274.49,3300.83 L1277.72,3304.61 L1280.95,3308.39 L1284.18,3312.17 L1287.41,3315.95 L1290.64,3319.73 L1293.87,3323.50 L1297.10,3327.28 L1300.33,3331.06 L1303.55,3334.84 L1306.78,3338.61 L1310.01,3342.39 L1313.24,3346.17 L1316.47,3349.94 L1319.70,3353.72 L1322.93,3357.49 L1326.16,3361.27 L1329.39,3365.04 L1332.61,3368.82 L1335.84,3372.59 L1339.07,3376.37 L1342.30,3380.14 L1345.53,3383.92 L1348.76,3387.69 L1351.99,3391.46 L1355.22,3395.24 L1358.45,3399.01 L1361.67,3402.78 L1364.90,3406.55 L1368.13,3410.32 L1371.36,3414.09 L1374.59,3417.86 L1377.82,3421.63 L1381.05,3425.40 L1384.28,3429.17 L1387.51,3432.94 L1390.73,3436.71 L1393.96,3440.48 L1397.19,3444.25 L1400.42,3448.01 L1403.65,3451.78 L1406.88,3455.55 L1410.11,3459.31 L1413.34,3463.08 L1416.56,3466.84 L1419.79,3470.61 L1423.02,3474.37 L1426.25,3478.13 L1429.48,3481.90 L1432.71,3485.66 L1435.94,3489.42 L1439.17,3493.18 L1442.40,3496.94 L1445.62,3500.70 L1448.85,3504.46 L1452.08,3508.22 L1455.31,3511.98 L1458.54,3515.74 L1461.77,3519.49 L1465.00,3523.25 L1468.23,3527.01 L1471.46,3530.76 L1474.68,3534.52 L1477.91,3538.27 L1481.14,3542.03 L1484.37,3545.78 L1487.60,3549.53 L1490.83,3553.28 L1494.06,3557.03 L1497.29,3560.78 L1500.52,3564.53 L1503.74,3568.28 L1506.97,3572.03 L1510.20,3575.78 L1513.43,3579.53 L1516.66,3583.27 L1519.89,3587.02 L1523.12,3590.77 L1526.35,3594.51 L1529.58,3598.25 L1532.80,3602.00 L1536.03,3605.74 L1539.26,3609.48 L1542.49,3613.22 L1545.72,3616.96 L1548.95,3620.70 L1552.18,3624.44 L1555.41,3628.18 L1558.64,3631.92 L1561.86,3635.66 L1565.09,3639.39 L1568.32,3643.13 L1571.55,3646.86 L1574.78,3650.59 L1578.01,3654.33 L1581.24,3658.06 L1584.47,3661.79 L1587.70,3665.52 L1590.92,3669.25 L1594.15,3672.98 L1597.38,3676.71 L1600.61,3680.44 L1603.84,3684.16 L1607.07,3687.89 L1610.30,3691.61" fill="none" stroke="#000" stroke-width="5.0" stroke-dasharray="8.2 12.4" stroke-linecap="round" stroke-linejoin="round" clip-path="url(#pcb)"/>
<path d="M297.40,2093.34 L321.98,2118.40 L322.53,2186.89 L325.76,2196.30 L328.99,2205.11 L332.22,2213.06 L335.44,2220.08 L338.67,2226.32 L341.90,2231.97 L345.13,2237.20 L348.35,2242.09 L351.58,2246.73 L354.81,2251.17 L358.04,2255.45 L361.26,2259.60 L364.49,2263.63 L367.72,2267.56 L370.95,2271.40 L374.17,2275.16 L377.40,2278.85 L380.63,2282.47 L383.86,2286.03 L387.08,2289.54 L390.31,2293.02 L393.54,2296.47 L396.77,2299.89 L399.99,2303.30 L403.22,2306.69 L406.45,2310.07 L409.68,2313.45 L412.90,2316.82 L416.13,2320.19 L419.36,2323.56 L422.59,2326.93 L425.81,2330.31 L429.04,2333.68 L432.27,2337.07 L435.50,2340.46 L438.72,2343.86 L441.95,2347.27 L445.18,2350.68 L448.41,2354.11 L451.63,2357.55 L454.86,2360.99 L458.09,2364.45 L461.32,2367.91 L464.54,2371.38 L467.77,2374.87 L471.00,2378.36 L474.22,2381.86 L477.45,2385.38 L480.68,2388.90 L483.91,2392.42 L487.13,2395.96 L490.36,2399.51 L493.59,2403.06 L496.82,2406.62 L500.04,2410.18 L503.27,2413.76 L506.50,2417.34 L509.73,2420.92 L512.95,2424.52 L516.18,2428.11 L519.41,2431.72 L522.64,2435.33 L525.86,2438.94 L529.09,2442.56 L532.32,2446.18 L535.55,2449.81 L538.77,2453.44 L542.00,2457.07 L545.23,2460.71 L548.46,2464.35 L551.68,2467.99 L554.91,2471.64 L558.14,2475.29 L561.37,2478.94 L564.59,2482.59 L567.82,2486.25 L571.05,2489.90 L574.28,2493.56 L577.50,2497.22 L580.73,2500.88 L583.96,2504.54 L587.19,2508.20 L590.41,2511.87 L593.64,2515.53 L596.87,2519.19 L600.10,2522.86 L603.32,2526.52 L606.55,2530.19 L609.78,2533.85 L613.01,2537.51 L616.23,2541.17 L619.46,2544.84 L622.69,2548.50 L625.92,2552.16 L629.14,2555.82 L632.37,2559.48 L635.60,2563.14 L638.83,2566.80 L642.05,2570.46 L645.28,2574.12 L648.51,2577.78 L651.74,2581.44 L654.96,2585.10 L658.19,2588.76 L661.42,2592.42 L664.65,2596.08 L667.87,2599.74 L671.10,2603.41 L674.33,2607.07 L677.56,2610.74 L680.78,2614.40 L684.01,2618.07 L687.24,2621.73 L690.47,2625.40 L693.69,2629.07 L696.92,2632.74 L700.15,2636.41 L703.38,2640.08 L706.60,2643.76 L709.83,2647.43 L713.06,2651.11 L716.29,2654.78 L719.51,2658.46 L722.74,2662.13 L725.97,2665.81 L729.20,2669.49 L732.42,2673.17 L735.65,2676.85 L738.88,2680.53 L742.11,2684.22 L745.33,2687.90 L748.56,2691.58 L751.79,2695.27 L755.02,2698.95 L758.24,2702.64 L761.47,2706.33 L764.70,2710.02 L767.93,2713.71 L771.15,2717.39 L774.38,2721.08 L777.61,2724.78 L780.84,2728.47 L784.06,2732.16 L787.29,2735.85 L790.52,2739.54 L793.75,2743.24 L796.97,2746.93 L800.20,2750.63 L803.43,2754.32 L806.66,2758.02 L809.88,2761.71 L813.11,2765.41 L816.34,2769.10 L819.57,2772.80 L822.79,2776.50 L826.02,2780.19 L829.25,2783.89 L832.48,2787.59 L835.70,2791.29 L838.93,2794.99 L842.16,2798.69 L845.38,2802.39 L848.61,2806.09 L851.84,2809.79 L855.07,2813.49 L858.29,2817.19 L861.52,2820.89 L864.75,2824.60 L867.98,2828.30 L871.20,2832.01 L874.43,2835.71 L877.66,2839.42 L880.89,2843.13 L884.11,2846.84 L887.34,2850.55 L890.57,2854.26 L893.80,2857.97 L897.02,2861.68 L900.25,2865.40 L903.48,2869.11 L906.71,2872.82 L909.93,2876.54 L913.16,2880.26 L916.39,2883.98 L919.62,2887.69 L922.84,2891.41 L926.07,2895.14 L929.30,2898.86 L932.53,2902.58 L935.75,2906.30 L938.98,2910.03 L942.21,2913.75 L945.44,2917.48 L948.66,2921.21 L951.89,2924.94 L955.12,2928.67 L958.35,2932.40 L961.57,2936.13 L964.80,2939.86 L968.03,2943.60 L971.26,2947.33 L974.48,2951.07 L977.71,2954.80 L980.94,2958.54 L984.17,2962.28 L987.39,2966.02 L990.62,2969.76 L993.85,2973.50 L997.08,2977.24 L1000.30,2980.98 L1003.53,2984.72 L1006.76,2988.47 L1009.99,2992.21 L1013.21,2995.96 L1016.44,2999.71 L1019.67,3003.45 L1022.90,3007.20 L1026.12,3010.95 L1029.35,3014.70 L1032.58,3018.45 L1035.81,3022.20 L1039.03,3025.96 L1042.26,3029.71 L1045.49,3033.46 L1048.72,3037.22 L1051.94,3040.97 L1055.17,3044.73 L1058.40,3048.49 L1061.63,3052.24 L1064.85,3056.00 L1068.08,3059.76 L1071.31,3063.52 L1074.54,3067.28 L1077.76,3071.04 L1080.99,3074.80 L1084.22,3078.56 L1087.45,3082.32 L1090.67,3086.09 L1093.90,3089.85 L1097.13,3093.61 L1100.36,3097.38 L1103.58,3101.14 L1106.81,3104.91 L1110.04,3108.67 L1113.27,3112.44 L1116.49,3116.21 L1119.72,3119.98 L1122.95,3123.74 L1126.18,3127.51 L1129.40,3131.28 L1132.63,3135.05 L1135.86,3138.82 L1139.09,3142.59 L1142.31,3146.36 L1145.54,3150.13 L1148.77,3153.90 L1152.00,3157.67 L1155.22,3161.44 L1158.45,3165.21 L1161.68,3168.99 L1164.91,3172.76 L1168.13,3176.53 L1171.36,3180.30 L1174.59,3184.08 L1177.82,3187.85 L1181.04,3191.62 L1184.27,3195.40 L1187.50,3199.17 L1190.73,3202.95 L1193.95,3206.72 L1197.18,3210.49 L1200.41,3214.27 L1203.64,3218.04 L1206.86,3221.82 L1210.09,3225.59 L1213.32,3229.37 L1216.54,3233.14 L1219.77,3236.92 L1223.00,3240.70 L1226.23,3244.47 L1229.45,3248.25 L1232.68,3252.02 L1235.91,3255.80 L1239.14,3259.57 L1242.36,3263.35 L1245.59,3267.12 L1248.82,3270.90 L1252.05,3274.68 L1255.27,3278.45 L1258.50,3282.23 L1261.73,3286.00 L1264.96,3289.78 L1268.18,3293.55 L1271.41,3297.33 L1274.64,3301.10 L1277.87,3304.88 L1281.09,3308.65 L1284.32,3312.43 L1287.55,3316.20 L1290.78,3319.98 L1294.00,3323.75 L1297.23,3327.53 L1300.46,3331.30 L1303.69,3335.08 L1306.91,3338.85 L1310.14,3342.62 L1313.37,3346.40 L1316.60,3350.17 L1319.82,3353.94 L1323.05,3357.71 L1326.28,3361.49 L1329.51,3365.26 L1332.73,3369.03 L1335.96,3372.80 L1339.19,3376.57 L1342.42,3380.35 L1345.64,3384.12 L1348.87,3387.89 L1352.10,3391.66 L1355.33,3395.43 L1358.55,3399.20 L1361.78,3402.97 L1365.01,3406.73 L1368.24,3410.50 L1371.46,3414.27 L1374.69,3418.04 L1377.92,3421.81 L1381.15,3425.57 L1384.37,3429.34 L1387.60,3433.11 L1390.83,3436.87 L1394.06,3440.64 L1397.28,3444.40 L1400.51,3448.17 L1403.74,3451.93 L1406.97,3455.69 L1410.19,3459.46 L1413.42,3463.22 L1416.65,3466.98 L1419.88,3470.74 L1423.10,3474.51 L1426.33,3478.27 L1429.56,3482.03 L1432.79,3485.79 L1436.01,3489.55 L1439.24,3493.30 L1442.47,3497.06 L1445.70,3500.82 L1448.92,3504.58 L1452.15,3508.33 L1455.38,3512.09 L1458.61,3515.85 L1461.83,3519.60 L1465.06,3523.36 L1468.29,3527.11 L1471.52,3530.86 L1474.74,3534.62 L1477.97,3538.37 L1481.20,3542.12 L1484.43,3545.87 L1487.65,3549.62 L1490.88,3553.37 L1494.11,3557.12 L1497.34,3560.87 L1500.56,3564.62 L1503.79,3568.36 L1507.02,3572.11 L1510.25,3575.86 L1513.47,3579.60 L1516.70,3583.35 L1519.93,3587.09 L1523.16,3590.83 L1526.38,3594.58 L1529.61,3598.32 L1532.84,3602.06 L1536.07,3605.80 L1539.29,3609.54 L1542.52,3613.28 L1545.75,3617.02 L1548.98,3620.75 L1552.20,3624.49 L1555.43,3628.23 L1558.66,3631.96 L1561.89,3635.70 L1565.11,3639.43 L1568.34,3643.16 L1571.57,3646.90 L1574.80,3650.63 L1578.02,3654.36 L1581.25,3658.09 L1584.48,3661.82 L1587.70,3665.55 L1590.93,3669.28 L1594.16,3673.00 L1597.39,3676.73 L1600.61,3680.46 L1603.84,3684.18 L1607.07,3687.90 L1610.30,3691.63" fill="none" stroke="#ff3333" stroke-width="5.6" stroke-linejoin="round" clip-path="url(#pcb)"/>
<path d="M297.40,3692.20V3672.20M297.40,2079.00V2099.00M632.07,3692.20V3672.20M632.07,2079.00V2099.00M966.73,3692.20V3672.20M966.73,2079.00V2099.00M1301.40,3692.20V3672.20M1301.40,2079.00V2099.00M1636.07,3692.20V3672.20M1636.07,2079.00V2099.00M1970.73,3692.20V3672.20M1970.73,2079.00V2099.00M2305.40,3692.20V3672.20M2305.40,2079.00V2099.00M464.73,3692.20V3682.20M464.73,2079.00V2089.00M799.40,3692.20V3682.20M799.40,2079.00V2089.00M1134.07,3692.20V3682.20M1134.07,2079.00V2089.00M1468.73,3692.20V3682.20M1468.73,2079.00V2089.00M1803.40,3692.20V3682.20M1803.40,2079.00V2089.00M2138.07,3692.20V3682.20M2138.07,2079.00V2089.00M297.40,2135.90H317.40M2305.40,2135.90H2285.40M297.40,2524.80H317.40M2305.40,2524.80H2285.40M297.40,2913.70H317.40M2305.40,2913.70H2285.40M297.40,3302.60H317.40M2305.40,3302.60H2285.40M297.40,3691.50H317.40M2305.40,3691.50H2285.40M297.40,2407.73H307.40M2305.40,2407.73H2295.40M297.40,2339.25H307.40M2305.40,2339.25H2295.40M297.40,2290.66H307.40M2305.40,2290.66H2295.40M297.40,2252.97H307.40M2305.40,2252.97H2295.40M297.40,2222.18H307.40M2305.40,2222.18H2295.40M297.40,2196.14H307.40M2305.40,2196.14H2295.40M297.40,2173.59H307.40M2305.40,2173.59H2295.40M297.40,2153.70H307.40M2305.40,2153.70H2295.40M297.40,2796.63H307.40M2305.40,2796.63H2295.40M297.40,2728.15H307.40M2305.40,2728.15H2295.40M297.40,2679.56H307.40M2305.40,2679.56H2295.40M297.40,2641.87H307.40M2305.40,2641.87H2295.40M297.40,2611.08H307.40M2305.40,2611.08H2295.40M297.40,2585.04H307.40M2305.40,2585.04H2295.40M297.40,2562.49H307.40M2305.40,2562.49H2295.40M297.40,2542.60H307.40M2305.40,2542.60H2295.40M297.40,3185.53H307.40M2305.40,3185.53H2295.40M297.40,3117.05H307.40M2305.40,3117.05H2295.40M297.40,3068.46H307.40M2305.40,3068.46H2295.40M297.40,3030.77H307.40M2305.40,3030.77H2295.40M297.40,2999.98H307.40M2305.40,2999.98H2295.40M297.40,2973.94H307.40M2305.40,2973.94H2295.40M297.40,2951.39H307.40M2305.40,2951.39H2295.40M297.40,2931.50H307.40M2305.40,2931.50H2295.40M297.40,3574.43H307.40M2305.40,3574.43H2295.40M297.40,3505.95H307.40M2305.40,3505.95H2295.40M297.40,3457.36H307.40M2305.40,3457.36H2295.40M297.40,3419.67H307.40M2305.40,3419.67H2295.40M297.40,3388.88H307.40M2305.40,3388.88H2295.40M297.40,3362.84H307.40M2305.40,3362.84H2295.40M297.40,3340.29H307.40M2305.40,3340.29H2295.40M297.40,3320.40H307.40M2305.40,3320.40H2295.40" stroke="#000" stroke-width="5.6" fill="none"/>
<rect x="297.40" y="2079.00" width="2008.00" height="1613.20" fill="none" stroke="#000" stroke-width="5.6" stroke-linejoin="miter"/>
<text x="297.40" y="3767.5" font-size="69.5" text-anchor="middle">0</text>
<text x="632.07" y="3767.5" font-size="69.5" text-anchor="middle">100</text>
<text x="966.73" y="3767.5" font-size="69.5" text-anchor="middle">200</text>
<text x="1301.40" y="3767.5" font-size="69.5" text-anchor="middle">300</text>
<text x="1636.07" y="3767.5" font-size="69.5" text-anchor="middle">400</text>
<text x="1970.73" y="3767.5" font-size="69.5" text-anchor="middle">500</text>
<text x="2305.40" y="3767.5" font-size="69.5" text-anchor="middle">600</text>
<text x="276.5" y="2160.8" font-size="69.5" text-anchor="end">10<tspan font-size="47.2" dy="-27.9">−2</tspan></text>
<text x="276.5" y="2549.7" font-size="69.5" text-anchor="end">10<tspan font-size="47.2" dy="-27.9">−3</tspan></text>
<text x="276.5" y="2938.6" font-size="69.5" text-anchor="end">10<tspan font-size="47.2" dy="-27.9">−4</tspan></text>
<text x="276.5" y="3327.5" font-size="69.5" text-anchor="end">10<tspan font-size="47.2" dy="-27.9">−5</tspan></text>
<text x="276.5" y="3716.4" font-size="69.5" text-anchor="end">10<tspan font-size="47.2" dy="-27.9">−6</tspan></text>
<path d="M484.3,2153.8H1260.3" stroke="#000" stroke-width="5.6"/>
<path d="M1259.3,2140.65L1312.9,2153.8L1259.3,2166.9500000000003Z" fill="#000"/>
<text transform="translate(116.0,2883.8) rotate(-90) scale(0.959,1)" font-size="87.5" font-weight="bold" text-anchor="middle">Implantation Profile</text>
<text transform="translate(1301.9,3895.6) scale(0.925,1)" font-size="90.7" font-weight="bold" text-anchor="middle">Penetration Depth (µm)</text>
<text transform="translate(1208.5,4025.5) scale(0.995,1)" style="font-family:'Liberation Serif',serif" font-size="86" text-anchor="middle"><tspan font-size="87.7" dy="-0.5">(</tspan><tspan font-weight="bold" dy="0.5">b</tspan><tspan font-size="87.7" dy="-0.5">)</tspan></text>
<rect x="1316" y="2097.6" width="973.8000000000002" height="877.4000000000001" fill="#fff"/>
<clipPath id="icbi"><rect x="1450.3" y="2116.7" width="806.3999999999999" height="803.3000000000002"/></clipPath>
<path d="M1450.30,2303.89 L1647.70,2405.50 L1649.26,2408.10 L1650.82,2410.72 L1652.38,2413.30 L1653.94,2415.85 L1655.50,2418.38 L1657.06,2420.88 L1658.62,2423.36 L1660.18,2425.81 L1661.74,2428.24 L1663.30,2430.64 L1664.86,2433.02 L1666.42,2435.37 L1667.98,2437.71 L1669.54,2440.02 L1671.10,2442.31 L1672.66,2444.58 L1674.22,2446.83 L1675.78,2449.06 L1677.34,2451.27 L1678.90,2453.46 L1680.46,2455.64 L1682.02,2457.79 L1683.58,2459.93 L1685.14,2462.05 L1686.70,2464.15 L1688.26,2466.23 L1689.82,2468.30 L1691.38,2470.35 L1692.94,2472.39 L1694.50,2474.41 L1696.06,2476.42 L1697.62,2478.41 L1699.18,2480.39 L1700.74,2482.35 L1702.30,2484.30 L1703.86,2486.23 L1705.42,2488.15 L1706.98,2490.06 L1708.54,2491.95 L1710.10,2493.84 L1711.66,2495.71 L1713.22,2497.56 L1714.78,2499.41 L1716.34,2501.24 L1717.90,2503.06 L1719.46,2504.87 L1721.02,2506.67 L1722.58,2508.46 L1724.14,2510.24 L1725.70,2512.00 L1727.26,2513.76 L1728.82,2515.50 L1730.38,2517.24 L1731.94,2518.96 L1733.50,2520.68 L1735.06,2522.38 L1736.62,2524.08 L1738.18,2525.77 L1739.74,2527.44 L1741.30,2529.11 L1742.86,2530.77 L1744.42,2532.42 L1745.98,2534.06 L1747.54,2535.70 L1749.10,2537.32 L1750.66,2538.94 L1752.22,2540.55 L1753.78,2542.15 L1755.34,2543.74 L1756.90,2545.33 L1758.46,2546.91 L1760.02,2548.48 L1761.58,2550.04 L1763.14,2551.59 L1764.70,2553.14 L1766.26,2554.68 L1767.82,2556.21 L1769.38,2557.74 L1770.94,2559.26 L1772.50,2560.77 L1774.06,2562.28 L1775.62,2563.78 L1777.18,2565.27 L1778.74,2566.76 L1780.30,2568.24 L1781.86,2569.72 L1783.42,2571.19 L1784.98,2572.65 L1786.54,2574.10 L1788.10,2575.56 L1789.66,2577.00 L1791.22,2578.44 L1792.78,2579.87 L1794.34,2581.30 L1795.90,2582.72 L1797.46,2584.14 L1799.02,2585.55 L1800.58,2586.96 L1802.14,2588.36 L1803.70,2589.75 L1805.26,2591.14 L1806.82,2592.53 L1808.38,2593.91 L1809.94,2595.29 L1811.50,2596.66 L1813.06,2598.02 L1814.62,2599.38 L1816.18,2600.74 L1817.74,2602.09 L1819.30,2603.44 L1820.86,2604.78 L1822.42,2606.12 L1823.98,2607.45 L1825.54,2608.78 L1827.10,2610.11 L1828.66,2611.43 L1830.22,2612.74 L1831.78,2614.05 L1833.34,2615.36 L1834.90,2616.67 L1836.46,2617.96 L1838.02,2619.26 L1839.58,2620.55 L1841.14,2621.84 L1842.70,2623.12 L1844.26,2624.40 L1845.82,2625.68 L1847.38,2626.95 L1848.94,2628.22 L1850.50,2629.48 L1852.06,2630.75 L1853.62,2632.00 L1855.18,2633.26 L1856.74,2634.51 L1858.30,2635.75 L1859.86,2637.00 L1861.42,2638.24 L1862.98,2639.47 L1864.54,2640.71 L1866.10,2641.94 L1867.66,2643.16 L1869.22,2644.39 L1870.78,2645.61 L1872.34,2646.82 L1873.90,2648.04 L1875.46,2649.25 L1877.02,2650.45 L1878.58,2651.66 L1880.14,2652.86 L1881.70,2654.06 L1883.26,2655.25 L1884.82,2656.44 L1886.38,2657.63 L1887.94,2658.82 L1889.50,2660.00 L1891.06,2661.18 L1892.62,2662.36 L1894.18,2663.53 L1895.74,2664.70 L1897.30,2665.87 L1898.86,2667.04 L1900.42,2668.20 L1901.98,2669.36 L1903.54,2670.52 L1905.10,2671.67 L1906.66,2672.82 L1908.22,2673.97 L1909.78,2675.12 L1911.34,2676.26 L1912.90,2677.40 L1914.46,2678.54 L1916.02,2679.67 L1917.58,2680.80 L1919.14,2681.93 L1920.70,2683.06 L1922.26,2684.18 L1923.82,2685.30 L1925.38,2686.42 L1926.94,2687.53 L1928.50,2688.64 L1930.06,2689.75 L1931.62,2690.86 L1933.18,2691.96 L1934.74,2693.06 L1936.30,2694.16 L1937.86,2695.25 L1939.42,2696.34 L1940.98,2697.43 L1942.54,2698.52 L1944.10,2699.60 L1945.66,2700.68 L1947.22,2701.76 L1948.78,2702.83 L1950.34,2703.91 L1951.90,2704.98 L1953.46,2706.04 L1955.02,2707.11 L1956.58,2708.17 L1958.14,2709.23 L1959.70,2710.28 L1961.26,2711.33 L1962.82,2712.38 L1964.38,2713.43 L1965.94,2714.48 L1967.50,2715.52 L1969.06,2716.56 L1970.62,2717.59 L1972.18,2718.63 L1973.74,2719.66 L1975.30,2720.69 L1976.86,2721.71 L1978.42,2722.74 L1979.98,2723.76 L1981.54,2724.78 L1983.10,2725.79 L1984.66,2726.80 L1986.22,2727.81 L1987.78,2728.82 L1989.34,2729.83 L1990.90,2730.83 L1992.46,2731.83 L1994.02,2732.82 L1995.58,2733.82 L1997.14,2734.81 L1998.70,2735.80 L2000.26,2736.78 L2001.82,2737.77 L2003.38,2738.75 L2004.94,2739.73 L2006.50,2740.70 L2008.06,2741.68 L2009.62,2742.65 L2011.18,2743.62 L2012.74,2744.58 L2014.30,2745.55 L2015.86,2746.51 L2017.42,2747.47 L2018.98,2748.42 L2020.54,2749.37 L2022.10,2750.33 L2023.66,2751.28 L2025.22,2752.22 L2026.78,2753.17 L2028.34,2754.11 L2029.90,2755.05 L2031.46,2755.99 L2033.02,2756.92 L2034.58,2757.86 L2036.14,2758.79 L2037.70,2759.72 L2039.26,2760.64 L2040.82,2761.57 L2042.38,2762.49 L2043.94,2763.41 L2045.50,2764.33 L2047.06,2765.25 L2048.62,2766.16 L2050.18,2767.08 L2051.74,2767.99 L2053.30,2768.90 L2054.86,2769.81 L2056.42,2770.71 L2057.98,2771.62 L2059.54,2772.52 L2061.10,2773.42 L2062.66,2774.32 L2064.22,2775.22 L2065.78,2776.11 L2067.34,2777.00 L2068.90,2777.90 L2070.46,2778.79 L2072.02,2779.67 L2073.58,2780.56 L2075.14,2781.45 L2076.70,2782.33 L2078.26,2783.21 L2079.82,2784.09 L2081.38,2784.97 L2082.94,2785.85 L2084.50,2786.73 L2086.06,2787.60 L2087.62,2788.47 L2089.18,2789.35 L2090.74,2790.22 L2092.30,2791.09 L2093.86,2791.95 L2095.42,2792.82 L2096.98,2793.68 L2098.54,2794.55 L2100.10,2795.41 L2101.66,2796.27 L2103.22,2797.13 L2104.78,2797.99 L2106.34,2798.84 L2107.90,2799.70 L2109.46,2800.55 L2111.02,2801.40 L2112.58,2802.26 L2114.14,2803.11 L2115.70,2803.96 L2117.26,2804.80 L2118.82,2805.65 L2120.38,2806.50 L2121.94,2807.34 L2123.50,2808.18 L2125.06,2809.03 L2126.62,2809.87 L2128.18,2810.71 L2129.74,2811.54 L2131.30,2812.38 L2132.86,2813.22 L2134.42,2814.05 L2135.98,2814.89 L2137.54,2815.72 L2139.10,2816.55 L2140.66,2817.39 L2142.22,2818.22 L2143.78,2819.04 L2145.34,2819.87 L2146.90,2820.70 L2148.46,2821.53 L2150.02,2822.35 L2151.58,2823.18 L2153.14,2824.00 L2154.70,2824.83 L2156.26,2825.65 L2157.82,2826.48 L2159.38,2827.30 L2160.94,2828.13 L2162.50,2828.96 L2164.06,2829.78 L2165.62,2830.61 L2167.18,2831.44 L2168.74,2832.27 L2170.30,2833.11 L2171.86,2833.94 L2173.42,2834.78 L2174.98,2835.62 L2176.54,2836.46 L2178.10,2837.30 L2179.66,2838.15 L2181.22,2839.00 L2182.78,2839.85 L2184.34,2840.70 L2185.90,2841.56 L2187.46,2842.42 L2189.02,2843.28 L2190.58,2844.15 L2192.14,2845.02 L2193.70,2845.89 L2195.26,2846.77 L2196.82,2847.65 L2198.38,2848.53 L2199.94,2849.42 L2201.50,2850.32 L2203.06,2851.22 L2204.62,2852.12 L2206.18,2853.02 L2207.74,2853.94 L2209.30,2854.85 L2210.86,2855.77 L2212.42,2856.70 L2213.98,2857.63 L2215.54,2858.57 L2217.10,2859.51 L2218.66,2860.46 L2220.22,2861.41 L2221.78,2862.37 L2223.34,2863.33 L2224.90,2864.30 L2226.46,2865.27 L2228.02,2866.25 L2229.58,2867.22 L2231.14,2868.21 L2232.70,2869.19 L2234.26,2870.18 L2235.82,2871.17 L2237.38,2872.16 L2238.94,2873.16 L2240.50,2874.16 L2242.06,2875.16 L2243.62,2876.16 L2245.18,2877.16 L2246.74,2878.16 L2248.30,2879.16 L2249.86,2880.16 L2251.42,2881.16 L2252.98,2882.17 L2254.54,2883.17 L2256.10,2884.17 L2257.66,2885.17 L2259.22,2886.17 L2260.78,2887.17 L2262.34,2888.16 L2263.90,2889.16 L2265.46,2890.15 L2267.02,2891.14 L2268.58,2892.13 L2270.14,2893.11" fill="none" stroke="#000" stroke-width="3.2" stroke-dasharray="4 8.6" stroke-linecap="round" clip-path="url(#icbi)"/>
<path d="M1450.30,2169.12 L1647.70,2264.50 L1652.17,2525.10 L1653.72,2527.16 L1655.27,2529.34 L1656.82,2531.53 L1658.36,2533.70 L1659.91,2535.88 L1661.46,2538.05 L1663.01,2540.21 L1664.56,2542.37 L1666.11,2544.52 L1667.66,2546.67 L1669.21,2548.81 L1670.75,2550.94 L1672.30,2553.07 L1673.85,2555.19 L1675.40,2557.30 L1676.95,2559.40 L1678.50,2561.49 L1680.05,2563.57 L1681.60,2565.64 L1683.14,2567.70 L1684.69,2569.76 L1686.24,2571.80 L1687.79,2573.83 L1689.34,2575.86 L1690.89,2577.87 L1692.44,2579.87 L1693.99,2581.86 L1695.54,2583.83 L1697.08,2585.80 L1698.63,2587.76 L1700.18,2589.70 L1701.73,2591.63 L1703.28,2593.55 L1704.83,2595.46 L1706.38,2597.36 L1707.93,2599.24 L1709.47,2601.11 L1711.02,2602.97 L1712.57,2604.82 L1714.12,2606.66 L1715.67,2608.48 L1717.22,2610.29 L1718.77,2612.09 L1720.32,2613.87 L1721.86,2615.65 L1723.41,2617.41 L1724.96,2619.15 L1726.51,2620.89 L1728.06,2622.61 L1729.61,2624.32 L1731.16,2626.02 L1732.71,2627.71 L1734.26,2629.38 L1735.80,2631.04 L1737.35,2632.69 L1738.90,2634.32 L1740.45,2635.94 L1742.00,2637.55 L1743.55,2639.15 L1745.10,2640.74 L1746.65,2642.31 L1748.19,2643.87 L1749.74,2645.42 L1751.29,2646.96 L1752.84,2648.48 L1754.39,2650.00 L1755.94,2651.50 L1757.49,2653.00 L1759.04,2654.48 L1760.58,2655.95 L1762.13,2657.41 L1763.68,2658.86 L1765.23,2660.31 L1766.78,2661.74 L1768.33,2663.16 L1769.88,2664.58 L1771.43,2665.98 L1772.98,2667.38 L1774.52,2668.77 L1776.07,2670.15 L1777.62,2671.52 L1779.17,2672.88 L1780.72,2674.23 L1782.27,2675.58 L1783.82,2676.92 L1785.37,2678.25 L1786.91,2679.57 L1788.46,2680.89 L1790.01,2682.20 L1791.56,2683.50 L1793.11,2684.80 L1794.66,2686.08 L1796.21,2687.37 L1797.76,2688.64 L1799.30,2689.91 L1800.85,2691.17 L1802.40,2692.43 L1803.95,2693.68 L1805.50,2694.92 L1807.05,2696.16 L1808.60,2697.39 L1810.15,2698.61 L1811.70,2699.83 L1813.24,2701.05 L1814.79,2702.26 L1816.34,2703.46 L1817.89,2704.66 L1819.44,2705.85 L1820.99,2707.04 L1822.54,2708.22 L1824.09,2709.40 L1825.63,2710.57 L1827.18,2711.74 L1828.73,2712.90 L1830.28,2714.06 L1831.83,2715.22 L1833.38,2716.37 L1834.93,2717.51 L1836.48,2718.65 L1838.02,2719.79 L1839.57,2720.92 L1841.12,2722.05 L1842.67,2723.17 L1844.22,2724.29 L1845.77,2725.41 L1847.32,2726.52 L1848.87,2727.63 L1850.42,2728.73 L1851.96,2729.83 L1853.51,2730.93 L1855.06,2732.02 L1856.61,2733.11 L1858.16,2734.20 L1859.71,2735.28 L1861.26,2736.36 L1862.81,2737.44 L1864.35,2738.51 L1865.90,2739.58 L1867.45,2740.64 L1869.00,2741.71 L1870.55,2742.77 L1872.10,2743.82 L1873.65,2744.88 L1875.20,2745.93 L1876.74,2746.98 L1878.29,2748.02 L1879.84,2749.06 L1881.39,2750.10 L1882.94,2751.14 L1884.49,2752.17 L1886.04,2753.20 L1887.59,2754.23 L1889.14,2755.26 L1890.68,2756.28 L1892.23,2757.30 L1893.78,2758.32 L1895.33,2759.33 L1896.88,2760.35 L1898.43,2761.36 L1899.98,2762.37 L1901.53,2763.37 L1903.07,2764.38 L1904.62,2765.38 L1906.17,2766.38 L1907.72,2767.37 L1909.27,2768.37 L1910.82,2769.36 L1912.37,2770.35 L1913.92,2771.34 L1915.46,2772.32 L1917.01,2773.31 L1918.56,2774.29 L1920.11,2775.27 L1921.66,2776.25 L1923.21,2777.22 L1924.76,2778.20 L1926.31,2779.17 L1927.86,2780.14 L1929.40,2781.11 L1930.95,2782.07 L1932.50,2783.03 L1934.05,2784.00 L1935.60,2784.96 L1937.15,2785.92 L1938.70,2786.87 L1940.25,2787.83 L1941.79,2788.78 L1943.34,2789.73 L1944.89,2790.68 L1946.44,2791.63 L1947.99,2792.57 L1949.54,2793.52 L1951.09,2794.46 L1952.64,2795.40 L1954.18,2796.34 L1955.73,2797.28 L1957.28,2798.21 L1958.83,2799.15 L1960.38,2800.08 L1961.93,2801.01 L1963.48,2801.94 L1965.03,2802.87 L1966.58,2803.79 L1968.12,2804.72 L1969.67,2805.64 L1971.22,2806.56 L1972.77,2807.48 L1974.32,2808.40 L1975.87,2809.32 L1977.42,2810.24 L1978.97,2811.15 L1980.51,2812.06 L1982.06,2812.97 L1983.61,2813.88 L1985.16,2814.79 L1986.71,2815.70 L1988.26,2816.60 L1989.81,2817.51 L1991.36,2818.41 L1992.90,2819.31 L1994.45,2820.21 L1996.00,2821.11 L1997.55,2822.01 L1999.10,2822.91 L2000.65,2823.80 L2002.20,2824.70 L2003.75,2825.59 L2005.30,2826.48 L2006.84,2827.37 L2008.39,2828.26 L2009.94,2829.15 L2011.49,2830.03 L2013.04,2830.92 L2014.59,2831.80 L2016.14,2832.68 L2017.69,2833.56 L2019.23,2834.44 L2020.78,2835.32 L2022.33,2836.20 L2023.88,2837.08 L2025.43,2837.95 L2026.98,2838.83 L2028.53,2839.70 L2030.08,2840.57 L2031.62,2841.44 L2033.17,2842.31 L2034.72,2843.18 L2036.27,2844.05 L2037.82,2844.92 L2039.37,2845.78 L2040.92,2846.65 L2042.47,2847.51 L2044.02,2848.37 L2045.56,2849.23 L2047.11,2850.09 L2048.66,2850.95 L2050.21,2851.81 L2051.76,2852.67 L2053.31,2853.52 L2054.86,2854.38 L2056.41,2855.23 L2057.95,2856.08 L2059.50,2856.94 L2061.05,2857.79 L2062.60,2858.64 L2064.15,2859.49 L2065.70,2860.33 L2067.25,2861.18 L2068.80,2862.03 L2070.34,2862.87 L2071.89,2863.71 L2073.44,2864.56 L2074.99,2865.40 L2076.54,2866.24 L2078.09,2867.08 L2079.64,2867.92 L2081.19,2868.76 L2082.74,2869.59 L2084.28,2870.43 L2085.83,2871.27 L2087.38,2872.10 L2088.93,2872.93 L2090.48,2873.77 L2092.03,2874.60 L2093.58,2875.43 L2095.13,2876.26 L2096.67,2877.09 L2098.22,2877.91 L2099.77,2878.74 L2101.32,2879.57 L2102.87,2880.39 L2104.42,2881.22 L2105.97,2882.04 L2107.52,2882.86 L2109.06,2883.68 L2110.61,2884.50 L2112.16,2885.32 L2113.71,2886.14 L2115.26,2886.96 L2116.81,2887.78 L2118.36,2888.60 L2119.91,2889.41 L2121.46,2890.23 L2123.00,2891.04 L2124.55,2891.85 L2126.10,2892.67 L2127.65,2893.48 L2129.20,2894.29 L2130.75,2895.10 L2132.30,2895.91 L2133.85,2896.72 L2135.39,2897.53 L2136.94,2898.33 L2138.49,2899.14 L2140.04,2899.95 L2141.59,2900.75 L2143.14,2901.56 L2144.69,2902.36 L2146.24,2903.17 L2147.78,2903.97 L2149.33,2904.77 L2150.88,2905.57 L2152.43,2906.37 L2153.98,2907.17 L2155.53,2907.97 L2157.08,2908.77 L2158.63,2909.57 L2160.18,2910.37 L2161.72,2911.17 L2163.27,2911.97 L2164.82,2912.76 L2166.37,2913.56 L2167.92,2914.35 L2169.47,2915.15 L2171.02,2915.94 L2172.57,2916.74 L2174.11,2917.53 L2175.66,2918.32 L2177.21,2919.12 L2178.76,2919.91 L2180.31,2920.70 L2181.86,2921.49 L2183.41,2922.28 L2184.96,2923.07 L2186.50,2923.86 L2188.05,2924.65 L2189.60,2925.44 L2191.15,2926.23 L2192.70,2927.02 L2194.25,2927.80 L2195.80,2928.59 L2197.35,2929.38 L2198.90,2930.16 L2200.44,2930.95 L2201.99,2931.74 L2203.54,2932.52 L2205.09,2933.31 L2206.64,2934.09 L2208.19,2934.88 L2209.74,2935.66 L2211.29,2936.44 L2212.83,2937.23 L2214.38,2938.01 L2215.93,2938.79 L2217.48,2939.57 L2219.03,2940.35 L2220.58,2941.14 L2222.13,2941.92 L2223.68,2942.70 L2225.22,2943.48 L2226.77,2944.26 L2228.32,2945.04 L2229.87,2945.82 L2231.42,2946.60 L2232.97,2947.38 L2234.52,2948.16 L2236.07,2948.93 L2237.62,2949.71 L2239.16,2950.49 L2240.71,2951.27 L2242.26,2952.05 L2243.81,2952.82 L2245.36,2953.60 L2246.91,2954.38 L2248.46,2955.15 L2250.01,2955.93 L2251.55,2956.71 L2253.10,2957.48 L2254.65,2958.26 L2256.20,2959.03 L2257.75,2959.81 L2259.30,2960.58 L2260.85,2961.36 L2262.40,2962.13 L2263.94,2962.91 L2265.49,2963.68 L2267.04,2964.45 L2268.59,2965.23 L2270.14,2966.00" fill="none" stroke="#ff3333" stroke-width="3" stroke-linejoin="round" clip-path="url(#icbi)"/>
<path d="M1649.4,2233V2920.0" stroke="#000" stroke-width="5.5" stroke-dasharray="15.8 12.6" clip-path="url(#icbi)"/>
<path d="M1450.30,2920.00V2910.60M1450.30,2116.70V2126.10M1719.10,2920.00V2910.60M1719.10,2116.70V2126.10M1987.90,2920.00V2910.60M1987.90,2116.70V2126.10M2256.70,2920.00V2910.60M2256.70,2116.70V2126.10M1584.70,2920.00V2915.50M1584.70,2116.70V2121.20M1853.50,2920.00V2915.50M1853.50,2116.70V2121.20M2122.30,2920.00V2915.50M2122.30,2116.70V2121.20M1450.30,2919.99H1459.70M2256.70,2919.99H2247.30M1450.30,2659.39H1459.70M2256.70,2659.39H2247.30M1450.30,2474.50H1459.70M2256.70,2474.50H2247.30M1450.30,2331.08H1459.70M2256.70,2331.08H2247.30M1450.30,2213.90H1459.70M2256.70,2213.90H2247.30M1450.30,2885.24H1454.80M2256.70,2885.24H2252.20M1450.30,2852.28H1454.80M2256.70,2852.28H2252.20M1450.30,2820.92H1454.80M2256.70,2820.92H2252.20M1450.30,2791.02H1454.80M2256.70,2791.02H2252.20M1450.30,2762.45H1454.80M2256.70,2762.45H2252.20M1450.30,2735.09H1454.80M2256.70,2735.09H2252.20M1450.30,2708.86H1454.80M2256.70,2708.86H2252.20M1450.30,2683.65H1454.80M2256.70,2683.65H2252.20M1450.30,2636.02H1454.80M2256.70,2636.02H2252.20M1450.30,2613.47H1454.80M2256.70,2613.47H2252.20M1450.30,2591.68H1454.80M2256.70,2591.68H2252.20M1450.30,2570.60H1454.80M2256.70,2570.60H2252.20M1450.30,2550.20H1454.80M2256.70,2550.20H2252.20M1450.30,2530.42H1454.80M2256.70,2530.42H2252.20M1450.30,2511.23H1454.80M2256.70,2511.23H2252.20M1450.30,2492.60H1454.80M2256.70,2492.60H2252.20M1450.30,2456.89H1454.80M2256.70,2456.89H2252.20M1450.30,2439.75H1454.80M2256.70,2439.75H2252.20M1450.30,2423.05H1454.80M2256.70,2423.05H2252.20M1450.30,2406.78H1454.80M2256.70,2406.78H2252.20M1450.30,2390.91H1454.80M2256.70,2390.91H2252.20M1450.30,2375.42H1454.80M2256.70,2375.42H2252.20M1450.30,2360.30H1454.80M2256.70,2360.30H2252.20M1450.30,2345.52H1454.80M2256.70,2345.52H2252.20M1450.30,2316.95H1454.80M2256.70,2316.95H2252.20M1450.30,2303.13H1454.80M2256.70,2303.13H2252.20M1450.30,2289.60H1454.80M2256.70,2289.60H2252.20M1450.30,2276.35H1454.80M2256.70,2276.35H2252.20M1450.30,2263.36H1454.80M2256.70,2263.36H2252.20M1450.30,2250.64H1454.80M2256.70,2250.64H2252.20M1450.30,2238.16H1454.80M2256.70,2238.16H2252.20M1450.30,2225.91H1454.80M2256.70,2225.91H2252.20M1450.30,2202.11H1454.80M2256.70,2202.11H2252.20M1450.30,2190.53H1454.80M2256.70,2190.53H2252.20M1450.30,2179.15H1454.80M2256.70,2179.15H2252.20M1450.30,2167.97H1454.80M2256.70,2167.97H2252.20M1450.30,2156.99H1454.80M2256.70,2156.99H2252.20M1450.30,2146.18H1454.80M2256.70,2146.18H2252.20M1450.30,2135.56H1454.80M2256.70,2135.56H2252.20M1450.30,2125.11H1454.80M2256.70,2125.11H2252.20" stroke="#000" stroke-width="2.8" fill="none"/>
<rect x="1450.30" y="2116.70" width="806.40" height="803.30" fill="none" stroke="#000" stroke-width="3.2" stroke-linejoin="miter"/>
<text x="1450.30" y="2966.6" font-size="45.2" text-anchor="middle">0</text>
<text x="1719.10" y="2966.6" font-size="45.2" text-anchor="middle">10</text>
<text x="1987.90" y="2966.6" font-size="45.2" text-anchor="middle">20</text>
<text x="2256.70" y="2966.6" font-size="45.2" text-anchor="middle">30</text>
<text x="1438.6" y="2934.0" font-size="45.2" text-anchor="end">0.004</text>
<text x="1438.6" y="2673.4" font-size="45.2" text-anchor="end">0.006</text>
<text x="1438.6" y="2488.5" font-size="45.2" text-anchor="end">0.008</text>
<text x="1435.8" y="2345.1" font-size="45.2" text-anchor="end">0.01</text>
<text x="1438.6" y="2227.9" font-size="45.2" text-anchor="end">0.012</text>
<path d="M1572.6,2159.4H1684.5" stroke="#ff3333" stroke-width="2.6"/>
<path d="M1572.6,2219.5H1684.5" stroke="#000" stroke-width="2.8" stroke-dasharray="7.5 4.2"/>
<text x="1695.1" y="2175.7" font-size="49.8">Backscattering corrected</text>
<text x="1695.1" y="2235.6" font-size="49.8">Uncorrected</text>
<text x="1544.5" y="2832.5" font-size="46" text-anchor="middle">Layer I</text>
<text x="1542.5" y="2887.8" font-size="46" text-anchor="middle">(Kapton)</text>
<text x="1779.0" y="2832.5" font-size="46" text-anchor="middle">Layer II</text>
<text x="1782.3" y="2887.8" font-size="46" text-anchor="middle">(Ti sample)</text>
</svg></body></html>
